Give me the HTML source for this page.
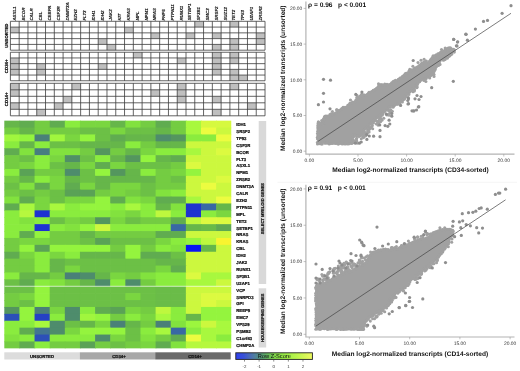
<!DOCTYPE html><html><head><meta charset="utf-8"><style>html,body{margin:0;padding:0;background:#fff;overflow:hidden}svg{display:block;will-change:transform}text{font-family:"Liberation Sans",sans-serif;text-rendering:geometricPrecision}.k{stroke:#111;stroke-width:0.22px}</style></head><body>
<svg width="520" height="371" viewBox="0 0 520 371">
<rect width="520" height="371" fill="#fff"/>
<rect x="194.78" y="21.30" width="8.78" height="5.78" fill="#bfbfbf"/>
<rect x="229.90" y="21.30" width="8.78" height="5.78" fill="#bfbfbf"/>
<rect x="10.40" y="27.08" width="8.78" height="5.78" fill="#bfbfbf"/>
<rect x="124.54" y="27.08" width="8.78" height="5.78" fill="#bfbfbf"/>
<rect x="150.88" y="32.86" width="8.78" height="5.78" fill="#bfbfbf"/>
<rect x="186.00" y="32.86" width="8.78" height="5.78" fill="#bfbfbf"/>
<rect x="212.34" y="32.86" width="8.78" height="5.78" fill="#bfbfbf"/>
<rect x="256.24" y="32.86" width="8.78" height="5.78" fill="#bfbfbf"/>
<rect x="98.20" y="38.64" width="8.78" height="5.78" fill="#bfbfbf"/>
<rect x="229.90" y="38.64" width="8.78" height="5.78" fill="#bfbfbf"/>
<rect x="256.24" y="38.64" width="8.78" height="5.78" fill="#bfbfbf"/>
<rect x="106.98" y="44.42" width="8.78" height="5.78" fill="#bfbfbf"/>
<rect x="212.34" y="44.42" width="8.78" height="5.78" fill="#bfbfbf"/>
<rect x="229.90" y="44.42" width="8.78" height="5.78" fill="#bfbfbf"/>
<line x1="10.40" y1="21.30" x2="265.02" y2="21.30" stroke="#3c3c3c" stroke-width="0.8"/>
<line x1="10.40" y1="27.08" x2="265.02" y2="27.08" stroke="#3c3c3c" stroke-width="0.8"/>
<line x1="10.40" y1="32.86" x2="265.02" y2="32.86" stroke="#3c3c3c" stroke-width="0.8"/>
<line x1="10.40" y1="38.64" x2="265.02" y2="38.64" stroke="#3c3c3c" stroke-width="0.8"/>
<line x1="10.40" y1="44.42" x2="265.02" y2="44.42" stroke="#3c3c3c" stroke-width="0.8"/>
<line x1="10.40" y1="50.20" x2="265.02" y2="50.20" stroke="#3c3c3c" stroke-width="0.8"/>
<line x1="10.40" y1="21.30" x2="10.40" y2="50.20" stroke="#3c3c3c" stroke-width="0.8"/>
<line x1="19.18" y1="21.30" x2="19.18" y2="50.20" stroke="#3c3c3c" stroke-width="0.8"/>
<line x1="27.96" y1="21.30" x2="27.96" y2="50.20" stroke="#3c3c3c" stroke-width="0.8"/>
<line x1="36.74" y1="21.30" x2="36.74" y2="50.20" stroke="#3c3c3c" stroke-width="0.8"/>
<line x1="45.52" y1="21.30" x2="45.52" y2="50.20" stroke="#3c3c3c" stroke-width="0.8"/>
<line x1="54.30" y1="21.30" x2="54.30" y2="50.20" stroke="#3c3c3c" stroke-width="0.8"/>
<line x1="63.08" y1="21.30" x2="63.08" y2="50.20" stroke="#3c3c3c" stroke-width="0.8"/>
<line x1="71.86" y1="21.30" x2="71.86" y2="50.20" stroke="#3c3c3c" stroke-width="0.8"/>
<line x1="80.64" y1="21.30" x2="80.64" y2="50.20" stroke="#3c3c3c" stroke-width="0.8"/>
<line x1="89.42" y1="21.30" x2="89.42" y2="50.20" stroke="#3c3c3c" stroke-width="0.8"/>
<line x1="98.20" y1="21.30" x2="98.20" y2="50.20" stroke="#3c3c3c" stroke-width="0.8"/>
<line x1="106.98" y1="21.30" x2="106.98" y2="50.20" stroke="#3c3c3c" stroke-width="0.8"/>
<line x1="115.76" y1="21.30" x2="115.76" y2="50.20" stroke="#3c3c3c" stroke-width="0.8"/>
<line x1="124.54" y1="21.30" x2="124.54" y2="50.20" stroke="#3c3c3c" stroke-width="0.8"/>
<line x1="133.32" y1="21.30" x2="133.32" y2="50.20" stroke="#3c3c3c" stroke-width="0.8"/>
<line x1="142.10" y1="21.30" x2="142.10" y2="50.20" stroke="#3c3c3c" stroke-width="0.8"/>
<line x1="150.88" y1="21.30" x2="150.88" y2="50.20" stroke="#3c3c3c" stroke-width="0.8"/>
<line x1="159.66" y1="21.30" x2="159.66" y2="50.20" stroke="#3c3c3c" stroke-width="0.8"/>
<line x1="168.44" y1="21.30" x2="168.44" y2="50.20" stroke="#3c3c3c" stroke-width="0.8"/>
<line x1="177.22" y1="21.30" x2="177.22" y2="50.20" stroke="#3c3c3c" stroke-width="0.8"/>
<line x1="186.00" y1="21.30" x2="186.00" y2="50.20" stroke="#3c3c3c" stroke-width="0.8"/>
<line x1="194.78" y1="21.30" x2="194.78" y2="50.20" stroke="#3c3c3c" stroke-width="0.8"/>
<line x1="203.56" y1="21.30" x2="203.56" y2="50.20" stroke="#3c3c3c" stroke-width="0.8"/>
<line x1="212.34" y1="21.30" x2="212.34" y2="50.20" stroke="#3c3c3c" stroke-width="0.8"/>
<line x1="221.12" y1="21.30" x2="221.12" y2="50.20" stroke="#3c3c3c" stroke-width="0.8"/>
<line x1="229.90" y1="21.30" x2="229.90" y2="50.20" stroke="#3c3c3c" stroke-width="0.8"/>
<line x1="238.68" y1="21.30" x2="238.68" y2="50.20" stroke="#3c3c3c" stroke-width="0.8"/>
<line x1="247.46" y1="21.30" x2="247.46" y2="50.20" stroke="#3c3c3c" stroke-width="0.8"/>
<line x1="256.24" y1="21.30" x2="256.24" y2="50.20" stroke="#3c3c3c" stroke-width="0.8"/>
<line x1="265.02" y1="21.30" x2="265.02" y2="50.20" stroke="#3c3c3c" stroke-width="0.8"/>
<rect x="133.32" y="52.25" width="8.78" height="5.70" fill="#bfbfbf"/>
<rect x="212.34" y="52.25" width="8.78" height="5.70" fill="#bfbfbf"/>
<rect x="229.90" y="52.25" width="8.78" height="5.70" fill="#bfbfbf"/>
<rect x="10.40" y="57.95" width="8.78" height="5.70" fill="#bfbfbf"/>
<rect x="177.22" y="57.95" width="8.78" height="5.70" fill="#bfbfbf"/>
<rect x="212.34" y="57.95" width="8.78" height="5.70" fill="#bfbfbf"/>
<rect x="229.90" y="57.95" width="8.78" height="5.70" fill="#bfbfbf"/>
<rect x="10.40" y="63.65" width="8.78" height="5.70" fill="#bfbfbf"/>
<rect x="36.74" y="63.65" width="8.78" height="5.70" fill="#bfbfbf"/>
<rect x="98.20" y="63.65" width="8.78" height="5.70" fill="#bfbfbf"/>
<rect x="212.34" y="63.65" width="8.78" height="5.70" fill="#bfbfbf"/>
<rect x="10.40" y="69.35" width="8.78" height="5.70" fill="#bfbfbf"/>
<rect x="36.74" y="69.35" width="8.78" height="5.70" fill="#bfbfbf"/>
<rect x="212.34" y="69.35" width="8.78" height="5.70" fill="#bfbfbf"/>
<rect x="229.90" y="69.35" width="8.78" height="5.70" fill="#bfbfbf"/>
<rect x="229.90" y="75.05" width="8.78" height="5.70" fill="#bfbfbf"/>
<rect x="238.68" y="75.05" width="8.78" height="5.70" fill="#bfbfbf"/>
<line x1="10.40" y1="52.25" x2="265.02" y2="52.25" stroke="#3c3c3c" stroke-width="0.8"/>
<line x1="10.40" y1="57.95" x2="265.02" y2="57.95" stroke="#3c3c3c" stroke-width="0.8"/>
<line x1="10.40" y1="63.65" x2="265.02" y2="63.65" stroke="#3c3c3c" stroke-width="0.8"/>
<line x1="10.40" y1="69.35" x2="265.02" y2="69.35" stroke="#3c3c3c" stroke-width="0.8"/>
<line x1="10.40" y1="75.05" x2="265.02" y2="75.05" stroke="#3c3c3c" stroke-width="0.8"/>
<line x1="10.40" y1="80.75" x2="265.02" y2="80.75" stroke="#3c3c3c" stroke-width="0.8"/>
<line x1="10.40" y1="52.25" x2="10.40" y2="80.75" stroke="#3c3c3c" stroke-width="0.8"/>
<line x1="19.18" y1="52.25" x2="19.18" y2="80.75" stroke="#3c3c3c" stroke-width="0.8"/>
<line x1="27.96" y1="52.25" x2="27.96" y2="80.75" stroke="#3c3c3c" stroke-width="0.8"/>
<line x1="36.74" y1="52.25" x2="36.74" y2="80.75" stroke="#3c3c3c" stroke-width="0.8"/>
<line x1="45.52" y1="52.25" x2="45.52" y2="80.75" stroke="#3c3c3c" stroke-width="0.8"/>
<line x1="54.30" y1="52.25" x2="54.30" y2="80.75" stroke="#3c3c3c" stroke-width="0.8"/>
<line x1="63.08" y1="52.25" x2="63.08" y2="80.75" stroke="#3c3c3c" stroke-width="0.8"/>
<line x1="71.86" y1="52.25" x2="71.86" y2="80.75" stroke="#3c3c3c" stroke-width="0.8"/>
<line x1="80.64" y1="52.25" x2="80.64" y2="80.75" stroke="#3c3c3c" stroke-width="0.8"/>
<line x1="89.42" y1="52.25" x2="89.42" y2="80.75" stroke="#3c3c3c" stroke-width="0.8"/>
<line x1="98.20" y1="52.25" x2="98.20" y2="80.75" stroke="#3c3c3c" stroke-width="0.8"/>
<line x1="106.98" y1="52.25" x2="106.98" y2="80.75" stroke="#3c3c3c" stroke-width="0.8"/>
<line x1="115.76" y1="52.25" x2="115.76" y2="80.75" stroke="#3c3c3c" stroke-width="0.8"/>
<line x1="124.54" y1="52.25" x2="124.54" y2="80.75" stroke="#3c3c3c" stroke-width="0.8"/>
<line x1="133.32" y1="52.25" x2="133.32" y2="80.75" stroke="#3c3c3c" stroke-width="0.8"/>
<line x1="142.10" y1="52.25" x2="142.10" y2="80.75" stroke="#3c3c3c" stroke-width="0.8"/>
<line x1="150.88" y1="52.25" x2="150.88" y2="80.75" stroke="#3c3c3c" stroke-width="0.8"/>
<line x1="159.66" y1="52.25" x2="159.66" y2="80.75" stroke="#3c3c3c" stroke-width="0.8"/>
<line x1="168.44" y1="52.25" x2="168.44" y2="80.75" stroke="#3c3c3c" stroke-width="0.8"/>
<line x1="177.22" y1="52.25" x2="177.22" y2="80.75" stroke="#3c3c3c" stroke-width="0.8"/>
<line x1="186.00" y1="52.25" x2="186.00" y2="80.75" stroke="#3c3c3c" stroke-width="0.8"/>
<line x1="194.78" y1="52.25" x2="194.78" y2="80.75" stroke="#3c3c3c" stroke-width="0.8"/>
<line x1="203.56" y1="52.25" x2="203.56" y2="80.75" stroke="#3c3c3c" stroke-width="0.8"/>
<line x1="212.34" y1="52.25" x2="212.34" y2="80.75" stroke="#3c3c3c" stroke-width="0.8"/>
<line x1="221.12" y1="52.25" x2="221.12" y2="80.75" stroke="#3c3c3c" stroke-width="0.8"/>
<line x1="229.90" y1="52.25" x2="229.90" y2="80.75" stroke="#3c3c3c" stroke-width="0.8"/>
<line x1="238.68" y1="52.25" x2="238.68" y2="80.75" stroke="#3c3c3c" stroke-width="0.8"/>
<line x1="247.46" y1="52.25" x2="247.46" y2="80.75" stroke="#3c3c3c" stroke-width="0.8"/>
<line x1="256.24" y1="52.25" x2="256.24" y2="80.75" stroke="#3c3c3c" stroke-width="0.8"/>
<line x1="265.02" y1="52.25" x2="265.02" y2="80.75" stroke="#3c3c3c" stroke-width="0.8"/>
<rect x="10.40" y="83.30" width="8.78" height="6.50" fill="#bfbfbf"/>
<rect x="71.86" y="83.30" width="8.78" height="6.50" fill="#bfbfbf"/>
<rect x="177.22" y="83.30" width="8.78" height="6.50" fill="#bfbfbf"/>
<rect x="229.90" y="83.30" width="8.78" height="6.50" fill="#bfbfbf"/>
<rect x="10.40" y="89.80" width="8.78" height="6.50" fill="#bfbfbf"/>
<rect x="150.88" y="89.80" width="8.78" height="6.50" fill="#bfbfbf"/>
<rect x="177.22" y="89.80" width="8.78" height="6.50" fill="#bfbfbf"/>
<rect x="63.08" y="96.30" width="8.78" height="6.50" fill="#bfbfbf"/>
<rect x="177.22" y="96.30" width="8.78" height="6.50" fill="#bfbfbf"/>
<rect x="212.34" y="96.30" width="8.78" height="6.50" fill="#bfbfbf"/>
<rect x="10.40" y="102.80" width="8.78" height="6.50" fill="#bfbfbf"/>
<rect x="54.30" y="102.80" width="8.78" height="6.50" fill="#bfbfbf"/>
<rect x="247.46" y="102.80" width="8.78" height="6.50" fill="#bfbfbf"/>
<rect x="36.74" y="109.30" width="8.78" height="6.50" fill="#bfbfbf"/>
<rect x="212.34" y="109.30" width="8.78" height="6.50" fill="#bfbfbf"/>
<line x1="10.40" y1="83.30" x2="265.02" y2="83.30" stroke="#3c3c3c" stroke-width="0.8"/>
<line x1="10.40" y1="89.80" x2="265.02" y2="89.80" stroke="#3c3c3c" stroke-width="0.8"/>
<line x1="10.40" y1="96.30" x2="265.02" y2="96.30" stroke="#3c3c3c" stroke-width="0.8"/>
<line x1="10.40" y1="102.80" x2="265.02" y2="102.80" stroke="#3c3c3c" stroke-width="0.8"/>
<line x1="10.40" y1="109.30" x2="265.02" y2="109.30" stroke="#3c3c3c" stroke-width="0.8"/>
<line x1="10.40" y1="115.80" x2="265.02" y2="115.80" stroke="#3c3c3c" stroke-width="0.8"/>
<line x1="10.40" y1="83.30" x2="10.40" y2="115.80" stroke="#3c3c3c" stroke-width="0.8"/>
<line x1="19.18" y1="83.30" x2="19.18" y2="115.80" stroke="#3c3c3c" stroke-width="0.8"/>
<line x1="27.96" y1="83.30" x2="27.96" y2="115.80" stroke="#3c3c3c" stroke-width="0.8"/>
<line x1="36.74" y1="83.30" x2="36.74" y2="115.80" stroke="#3c3c3c" stroke-width="0.8"/>
<line x1="45.52" y1="83.30" x2="45.52" y2="115.80" stroke="#3c3c3c" stroke-width="0.8"/>
<line x1="54.30" y1="83.30" x2="54.30" y2="115.80" stroke="#3c3c3c" stroke-width="0.8"/>
<line x1="63.08" y1="83.30" x2="63.08" y2="115.80" stroke="#3c3c3c" stroke-width="0.8"/>
<line x1="71.86" y1="83.30" x2="71.86" y2="115.80" stroke="#3c3c3c" stroke-width="0.8"/>
<line x1="80.64" y1="83.30" x2="80.64" y2="115.80" stroke="#3c3c3c" stroke-width="0.8"/>
<line x1="89.42" y1="83.30" x2="89.42" y2="115.80" stroke="#3c3c3c" stroke-width="0.8"/>
<line x1="98.20" y1="83.30" x2="98.20" y2="115.80" stroke="#3c3c3c" stroke-width="0.8"/>
<line x1="106.98" y1="83.30" x2="106.98" y2="115.80" stroke="#3c3c3c" stroke-width="0.8"/>
<line x1="115.76" y1="83.30" x2="115.76" y2="115.80" stroke="#3c3c3c" stroke-width="0.8"/>
<line x1="124.54" y1="83.30" x2="124.54" y2="115.80" stroke="#3c3c3c" stroke-width="0.8"/>
<line x1="133.32" y1="83.30" x2="133.32" y2="115.80" stroke="#3c3c3c" stroke-width="0.8"/>
<line x1="142.10" y1="83.30" x2="142.10" y2="115.80" stroke="#3c3c3c" stroke-width="0.8"/>
<line x1="150.88" y1="83.30" x2="150.88" y2="115.80" stroke="#3c3c3c" stroke-width="0.8"/>
<line x1="159.66" y1="83.30" x2="159.66" y2="115.80" stroke="#3c3c3c" stroke-width="0.8"/>
<line x1="168.44" y1="83.30" x2="168.44" y2="115.80" stroke="#3c3c3c" stroke-width="0.8"/>
<line x1="177.22" y1="83.30" x2="177.22" y2="115.80" stroke="#3c3c3c" stroke-width="0.8"/>
<line x1="186.00" y1="83.30" x2="186.00" y2="115.80" stroke="#3c3c3c" stroke-width="0.8"/>
<line x1="194.78" y1="83.30" x2="194.78" y2="115.80" stroke="#3c3c3c" stroke-width="0.8"/>
<line x1="203.56" y1="83.30" x2="203.56" y2="115.80" stroke="#3c3c3c" stroke-width="0.8"/>
<line x1="212.34" y1="83.30" x2="212.34" y2="115.80" stroke="#3c3c3c" stroke-width="0.8"/>
<line x1="221.12" y1="83.30" x2="221.12" y2="115.80" stroke="#3c3c3c" stroke-width="0.8"/>
<line x1="229.90" y1="83.30" x2="229.90" y2="115.80" stroke="#3c3c3c" stroke-width="0.8"/>
<line x1="238.68" y1="83.30" x2="238.68" y2="115.80" stroke="#3c3c3c" stroke-width="0.8"/>
<line x1="247.46" y1="83.30" x2="247.46" y2="115.80" stroke="#3c3c3c" stroke-width="0.8"/>
<line x1="256.24" y1="83.30" x2="256.24" y2="115.80" stroke="#3c3c3c" stroke-width="0.8"/>
<line x1="265.02" y1="83.30" x2="265.02" y2="115.80" stroke="#3c3c3c" stroke-width="0.8"/>
<text transform="translate(15.89,20.6) rotate(-90)" font-size="4.4" font-weight="bold" font-style="italic" fill="#111" stroke="#111" stroke-width="0.08">ASXL1</text>
<text transform="translate(24.67,20.6) rotate(-90)" font-size="4.4" font-weight="bold" font-style="italic" fill="#111" stroke="#111" stroke-width="0.08">BCOR</text>
<text transform="translate(33.45,20.6) rotate(-90)" font-size="4.4" font-weight="bold" font-style="italic" fill="#111" stroke="#111" stroke-width="0.08">CALR</text>
<text transform="translate(42.23,20.6) rotate(-90)" font-size="4.4" font-weight="bold" font-style="italic" fill="#111" stroke="#111" stroke-width="0.08">CBL</text>
<text transform="translate(51.01,20.6) rotate(-90)" font-size="4.4" font-weight="bold" font-style="italic" fill="#111" stroke="#111" stroke-width="0.08">CEBPA</text>
<text transform="translate(59.79,20.6) rotate(-90)" font-size="4.4" font-weight="bold" font-style="italic" fill="#111" stroke="#111" stroke-width="0.08">CSF3R</text>
<text transform="translate(68.57,20.6) rotate(-90)" font-size="4.4" font-weight="bold" font-style="italic" fill="#111" stroke="#111" stroke-width="0.08">DNMT3A</text>
<text transform="translate(77.35,20.6) rotate(-90)" font-size="4.4" font-weight="bold" font-style="italic" fill="#111" stroke="#111" stroke-width="0.08">EZH2</text>
<text transform="translate(86.13,20.6) rotate(-90)" font-size="4.4" font-weight="bold" font-style="italic" fill="#111" stroke="#111" stroke-width="0.08">FLT3</text>
<text transform="translate(94.91,20.6) rotate(-90)" font-size="4.4" font-weight="bold" font-style="italic" fill="#111" stroke="#111" stroke-width="0.08">IDH1</text>
<text transform="translate(103.69,20.6) rotate(-90)" font-size="4.4" font-weight="bold" font-style="italic" fill="#111" stroke="#111" stroke-width="0.08">IDH2</text>
<text transform="translate(112.47,20.6) rotate(-90)" font-size="4.4" font-weight="bold" font-style="italic" fill="#111" stroke="#111" stroke-width="0.08">JAK2</text>
<text transform="translate(121.25,20.6) rotate(-90)" font-size="4.4" font-weight="bold" font-style="italic" fill="#111" stroke="#111" stroke-width="0.08">KIT</text>
<text transform="translate(130.03,20.6) rotate(-90)" font-size="4.4" font-weight="bold" font-style="italic" fill="#111" stroke="#111" stroke-width="0.08">KRAS</text>
<text transform="translate(138.81,20.6) rotate(-90)" font-size="4.4" font-weight="bold" font-style="italic" fill="#111" stroke="#111" stroke-width="0.08">MPL</text>
<text transform="translate(147.59,20.6) rotate(-90)" font-size="4.4" font-weight="bold" font-style="italic" fill="#111" stroke="#111" stroke-width="0.08">NPM1</text>
<text transform="translate(156.37,20.6) rotate(-90)" font-size="4.4" font-weight="bold" font-style="italic" fill="#111" stroke="#111" stroke-width="0.08">NRAS</text>
<text transform="translate(165.15,20.6) rotate(-90)" font-size="4.4" font-weight="bold" font-style="italic" fill="#111" stroke="#111" stroke-width="0.08">PHF6</text>
<text transform="translate(173.93,20.6) rotate(-90)" font-size="4.4" font-weight="bold" font-style="italic" fill="#111" stroke="#111" stroke-width="0.08">PTPN11</text>
<text transform="translate(182.71,20.6) rotate(-90)" font-size="4.4" font-weight="bold" font-style="italic" fill="#111" stroke="#111" stroke-width="0.08">RUNX1</text>
<text transform="translate(191.49,20.6) rotate(-90)" font-size="4.4" font-weight="bold" font-style="italic" fill="#111" stroke="#111" stroke-width="0.08">SETBP1</text>
<text transform="translate(200.27,20.6) rotate(-90)" font-size="4.4" font-weight="bold" font-style="italic" fill="#111" stroke="#111" stroke-width="0.08">SF3B1</text>
<text transform="translate(209.05,20.6) rotate(-90)" font-size="4.4" font-weight="bold" font-style="italic" fill="#111" stroke="#111" stroke-width="0.08">SMC3</text>
<text transform="translate(217.83,20.6) rotate(-90)" font-size="4.4" font-weight="bold" font-style="italic" fill="#111" stroke="#111" stroke-width="0.08">SRSF2</text>
<text transform="translate(226.61,20.6) rotate(-90)" font-size="4.4" font-weight="bold" font-style="italic" fill="#111" stroke="#111" stroke-width="0.08">SUZ12</text>
<text transform="translate(235.39,20.6) rotate(-90)" font-size="4.4" font-weight="bold" font-style="italic" fill="#111" stroke="#111" stroke-width="0.08">TET2</text>
<text transform="translate(244.17,20.6) rotate(-90)" font-size="4.4" font-weight="bold" font-style="italic" fill="#111" stroke="#111" stroke-width="0.08">TP53</text>
<text transform="translate(252.95,20.6) rotate(-90)" font-size="4.4" font-weight="bold" font-style="italic" fill="#111" stroke="#111" stroke-width="0.08">U2AF1</text>
<text transform="translate(261.73,20.6) rotate(-90)" font-size="4.4" font-weight="bold" font-style="italic" fill="#111" stroke="#111" stroke-width="0.08">ZRSR2</text>
<text transform="translate(7.7,35.6) rotate(-90)" text-anchor="middle" font-size="4.3" font-weight="bold" fill="#111" class="k">UNSORTED</text>
<text transform="translate(7.7,66.3) rotate(-90)" text-anchor="middle" font-size="4.4" font-weight="bold" fill="#111" class="k">CD34+</text>
<text transform="translate(7.9,99.3) rotate(-90)" text-anchor="middle" font-size="4.4" font-weight="bold" fill="#111" class="k">CD14+</text>
<rect x="4.30" y="120.65" width="15.83" height="7.60" fill="#66b64a"/>
<rect x="19.43" y="120.65" width="15.83" height="7.60" fill="#60ac50"/>
<rect x="34.56" y="120.65" width="15.83" height="7.60" fill="#74cc42"/>
<rect x="49.69" y="120.65" width="15.83" height="7.60" fill="#60ac50"/>
<rect x="64.82" y="120.65" width="15.83" height="7.60" fill="#8aec3e"/>
<rect x="79.95" y="120.65" width="15.83" height="7.60" fill="#7ad640"/>
<rect x="95.08" y="120.65" width="15.83" height="7.60" fill="#7ad640"/>
<rect x="110.21" y="120.65" width="15.83" height="7.60" fill="#66b64a"/>
<rect x="125.34" y="120.65" width="15.83" height="7.60" fill="#82e23e"/>
<rect x="140.47" y="120.65" width="15.83" height="7.60" fill="#74cc42"/>
<rect x="155.60" y="120.65" width="15.83" height="7.60" fill="#60ac50"/>
<rect x="170.73" y="120.65" width="15.83" height="7.60" fill="#74cc42"/>
<rect x="185.86" y="120.65" width="15.83" height="7.60" fill="#a8f83e"/>
<rect x="200.99" y="120.65" width="15.83" height="7.60" fill="#d6f93f"/>
<rect x="216.12" y="120.65" width="15.13" height="7.60" fill="#d6f93f"/>
<rect x="4.30" y="127.55" width="15.83" height="7.60" fill="#74cc42"/>
<rect x="19.43" y="127.55" width="15.83" height="7.60" fill="#66b64a"/>
<rect x="34.56" y="127.55" width="15.83" height="7.60" fill="#74cc42"/>
<rect x="49.69" y="127.55" width="15.83" height="7.60" fill="#74cc42"/>
<rect x="64.82" y="127.55" width="15.83" height="7.60" fill="#74cc42"/>
<rect x="79.95" y="127.55" width="15.83" height="7.60" fill="#6cc046"/>
<rect x="95.08" y="127.55" width="15.83" height="7.60" fill="#6cc046"/>
<rect x="110.21" y="127.55" width="15.83" height="7.60" fill="#7ad640"/>
<rect x="125.34" y="127.55" width="15.83" height="7.60" fill="#6cc046"/>
<rect x="140.47" y="127.55" width="15.83" height="7.60" fill="#6cc046"/>
<rect x="155.60" y="127.55" width="15.83" height="7.60" fill="#66b64a"/>
<rect x="170.73" y="127.55" width="15.83" height="7.60" fill="#74cc42"/>
<rect x="185.86" y="127.55" width="15.83" height="7.60" fill="#a8f83e"/>
<rect x="200.99" y="127.55" width="15.83" height="7.60" fill="#ecfc40"/>
<rect x="216.12" y="127.55" width="15.13" height="7.60" fill="#ccf83e"/>
<rect x="4.30" y="134.45" width="15.83" height="7.60" fill="#a0f63e"/>
<rect x="19.43" y="134.45" width="15.83" height="7.60" fill="#94f43e"/>
<rect x="34.56" y="134.45" width="15.83" height="7.60" fill="#4a8078"/>
<rect x="49.69" y="134.45" width="15.83" height="7.60" fill="#a0f63e"/>
<rect x="64.82" y="134.45" width="15.83" height="7.60" fill="#7ad640"/>
<rect x="79.95" y="134.45" width="15.83" height="7.60" fill="#94f43e"/>
<rect x="95.08" y="134.45" width="15.83" height="7.60" fill="#6cc046"/>
<rect x="110.21" y="134.45" width="15.83" height="7.60" fill="#60ac50"/>
<rect x="125.34" y="134.45" width="15.83" height="7.60" fill="#66b64a"/>
<rect x="140.47" y="134.45" width="15.83" height="7.60" fill="#66b64a"/>
<rect x="155.60" y="134.45" width="15.83" height="7.60" fill="#4e8c6c"/>
<rect x="170.73" y="134.45" width="15.83" height="7.60" fill="#54965e"/>
<rect x="185.86" y="134.45" width="15.83" height="7.60" fill="#8aec3e"/>
<rect x="200.99" y="134.45" width="15.83" height="7.60" fill="#8aec3e"/>
<rect x="216.12" y="134.45" width="15.13" height="7.60" fill="#ecfc40"/>
<rect x="4.30" y="141.35" width="15.83" height="7.60" fill="#8aec3e"/>
<rect x="19.43" y="141.35" width="15.83" height="7.60" fill="#66b64a"/>
<rect x="34.56" y="141.35" width="15.83" height="7.60" fill="#8aec3e"/>
<rect x="49.69" y="141.35" width="15.83" height="7.60" fill="#6cc046"/>
<rect x="64.82" y="141.35" width="15.83" height="7.60" fill="#6cc046"/>
<rect x="79.95" y="141.35" width="15.83" height="7.60" fill="#66b64a"/>
<rect x="95.08" y="141.35" width="15.83" height="7.60" fill="#66b64a"/>
<rect x="110.21" y="141.35" width="15.83" height="7.60" fill="#66b64a"/>
<rect x="125.34" y="141.35" width="15.83" height="7.60" fill="#8aec3e"/>
<rect x="140.47" y="141.35" width="15.83" height="7.60" fill="#74cc42"/>
<rect x="155.60" y="141.35" width="15.83" height="7.60" fill="#66b64a"/>
<rect x="170.73" y="141.35" width="15.83" height="7.60" fill="#66b64a"/>
<rect x="185.86" y="141.35" width="15.83" height="7.60" fill="#ccf83e"/>
<rect x="200.99" y="141.35" width="15.83" height="7.60" fill="#ccf83e"/>
<rect x="216.12" y="141.35" width="15.13" height="7.60" fill="#ccf83e"/>
<rect x="4.30" y="148.25" width="15.83" height="7.60" fill="#60ac50"/>
<rect x="19.43" y="148.25" width="15.83" height="7.60" fill="#82e23e"/>
<rect x="34.56" y="148.25" width="15.83" height="7.60" fill="#477d80"/>
<rect x="49.69" y="148.25" width="15.83" height="7.60" fill="#82e23e"/>
<rect x="64.82" y="148.25" width="15.83" height="7.60" fill="#82e23e"/>
<rect x="79.95" y="148.25" width="15.83" height="7.60" fill="#74cc42"/>
<rect x="95.08" y="148.25" width="15.83" height="7.60" fill="#54965e"/>
<rect x="110.21" y="148.25" width="15.83" height="7.60" fill="#74cc42"/>
<rect x="125.34" y="148.25" width="15.83" height="7.60" fill="#66b64a"/>
<rect x="140.47" y="148.25" width="15.83" height="7.60" fill="#7ad640"/>
<rect x="155.60" y="148.25" width="15.83" height="7.60" fill="#8aec3e"/>
<rect x="170.73" y="148.25" width="15.83" height="7.60" fill="#8aec3e"/>
<rect x="185.86" y="148.25" width="15.83" height="7.60" fill="#a8f83e"/>
<rect x="200.99" y="148.25" width="15.83" height="7.60" fill="#ccf83e"/>
<rect x="216.12" y="148.25" width="15.13" height="7.60" fill="#dcfa40"/>
<rect x="4.30" y="155.15" width="15.83" height="7.60" fill="#74cc42"/>
<rect x="19.43" y="155.15" width="15.83" height="7.60" fill="#6cc046"/>
<rect x="34.56" y="155.15" width="15.83" height="7.60" fill="#8aec3e"/>
<rect x="49.69" y="155.15" width="15.83" height="7.60" fill="#7ad640"/>
<rect x="64.82" y="155.15" width="15.83" height="7.60" fill="#509066"/>
<rect x="79.95" y="155.15" width="15.83" height="7.60" fill="#6cc046"/>
<rect x="95.08" y="155.15" width="15.83" height="7.60" fill="#8aec3e"/>
<rect x="110.21" y="155.15" width="15.83" height="7.60" fill="#66b64a"/>
<rect x="125.34" y="155.15" width="15.83" height="7.60" fill="#54965e"/>
<rect x="140.47" y="155.15" width="15.83" height="7.60" fill="#94f43e"/>
<rect x="155.60" y="155.15" width="15.83" height="7.60" fill="#66b64a"/>
<rect x="170.73" y="155.15" width="15.83" height="7.60" fill="#60ac50"/>
<rect x="185.86" y="155.15" width="15.83" height="7.60" fill="#ccf83e"/>
<rect x="200.99" y="155.15" width="15.83" height="7.60" fill="#ccf83e"/>
<rect x="216.12" y="155.15" width="15.13" height="7.60" fill="#ccf83e"/>
<rect x="4.30" y="162.05" width="15.83" height="7.60" fill="#74cc42"/>
<rect x="19.43" y="162.05" width="15.83" height="7.60" fill="#7ad640"/>
<rect x="34.56" y="162.05" width="15.83" height="7.60" fill="#8aec3e"/>
<rect x="49.69" y="162.05" width="15.83" height="7.60" fill="#6cc046"/>
<rect x="64.82" y="162.05" width="15.83" height="7.60" fill="#66b64a"/>
<rect x="79.95" y="162.05" width="15.83" height="7.60" fill="#7ad640"/>
<rect x="95.08" y="162.05" width="15.83" height="7.60" fill="#60ac50"/>
<rect x="110.21" y="162.05" width="15.83" height="7.60" fill="#7ad640"/>
<rect x="125.34" y="162.05" width="15.83" height="7.60" fill="#6cc046"/>
<rect x="140.47" y="162.05" width="15.83" height="7.60" fill="#6cc046"/>
<rect x="155.60" y="162.05" width="15.83" height="7.60" fill="#6cc046"/>
<rect x="170.73" y="162.05" width="15.83" height="7.60" fill="#74cc42"/>
<rect x="185.86" y="162.05" width="15.83" height="7.60" fill="#dcfa40"/>
<rect x="200.99" y="162.05" width="15.83" height="7.60" fill="#ccf83e"/>
<rect x="216.12" y="162.05" width="15.13" height="7.60" fill="#ccf83e"/>
<rect x="4.30" y="168.95" width="15.83" height="7.60" fill="#8aec3e"/>
<rect x="19.43" y="168.95" width="15.83" height="7.60" fill="#5aa256"/>
<rect x="34.56" y="168.95" width="15.83" height="7.60" fill="#74cc42"/>
<rect x="49.69" y="168.95" width="15.83" height="7.60" fill="#74cc42"/>
<rect x="64.82" y="168.95" width="15.83" height="7.60" fill="#4e8c6c"/>
<rect x="79.95" y="168.95" width="15.83" height="7.60" fill="#6cc046"/>
<rect x="95.08" y="168.95" width="15.83" height="7.60" fill="#94f43e"/>
<rect x="110.21" y="168.95" width="15.83" height="7.60" fill="#54965e"/>
<rect x="125.34" y="168.95" width="15.83" height="7.60" fill="#66b64a"/>
<rect x="140.47" y="168.95" width="15.83" height="7.60" fill="#8aec3e"/>
<rect x="155.60" y="168.95" width="15.83" height="7.60" fill="#74cc42"/>
<rect x="170.73" y="168.95" width="15.83" height="7.60" fill="#7ad640"/>
<rect x="185.86" y="168.95" width="15.83" height="7.60" fill="#94f43e"/>
<rect x="200.99" y="168.95" width="15.83" height="7.60" fill="#ccf83e"/>
<rect x="216.12" y="168.95" width="15.13" height="7.60" fill="#ccf83e"/>
<rect x="4.30" y="175.85" width="15.83" height="7.60" fill="#74cc42"/>
<rect x="19.43" y="175.85" width="15.83" height="7.60" fill="#66b64a"/>
<rect x="34.56" y="175.85" width="15.83" height="7.60" fill="#8aec3e"/>
<rect x="49.69" y="175.85" width="15.83" height="7.60" fill="#7ad640"/>
<rect x="64.82" y="175.85" width="15.83" height="7.60" fill="#66b64a"/>
<rect x="79.95" y="175.85" width="15.83" height="7.60" fill="#6cc046"/>
<rect x="95.08" y="175.85" width="15.83" height="7.60" fill="#66b64a"/>
<rect x="110.21" y="175.85" width="15.83" height="7.60" fill="#66b64a"/>
<rect x="125.34" y="175.85" width="15.83" height="7.60" fill="#66b64a"/>
<rect x="140.47" y="175.85" width="15.83" height="7.60" fill="#66b64a"/>
<rect x="155.60" y="175.85" width="15.83" height="7.60" fill="#74cc42"/>
<rect x="170.73" y="175.85" width="15.83" height="7.60" fill="#6cc046"/>
<rect x="185.86" y="175.85" width="15.83" height="7.60" fill="#ccf83e"/>
<rect x="200.99" y="175.85" width="15.83" height="7.60" fill="#ccf83e"/>
<rect x="216.12" y="175.85" width="15.13" height="7.60" fill="#dcfa40"/>
<rect x="4.30" y="182.75" width="15.83" height="7.60" fill="#6cc046"/>
<rect x="19.43" y="182.75" width="15.83" height="7.60" fill="#82e23e"/>
<rect x="34.56" y="182.75" width="15.83" height="7.60" fill="#60ac50"/>
<rect x="49.69" y="182.75" width="15.83" height="7.60" fill="#7ad640"/>
<rect x="64.82" y="182.75" width="15.83" height="7.60" fill="#60ac50"/>
<rect x="79.95" y="182.75" width="15.83" height="7.60" fill="#7ad640"/>
<rect x="95.08" y="182.75" width="15.83" height="7.60" fill="#66b64a"/>
<rect x="110.21" y="182.75" width="15.83" height="7.60" fill="#7ad640"/>
<rect x="125.34" y="182.75" width="15.83" height="7.60" fill="#7ad640"/>
<rect x="140.47" y="182.75" width="15.83" height="7.60" fill="#6cc046"/>
<rect x="155.60" y="182.75" width="15.83" height="7.60" fill="#74cc42"/>
<rect x="170.73" y="182.75" width="15.83" height="7.60" fill="#74cc42"/>
<rect x="185.86" y="182.75" width="15.83" height="7.60" fill="#ccf83e"/>
<rect x="200.99" y="182.75" width="15.83" height="7.60" fill="#ecfc40"/>
<rect x="216.12" y="182.75" width="15.13" height="7.60" fill="#ccf83e"/>
<rect x="4.30" y="189.65" width="15.83" height="7.60" fill="#74cc42"/>
<rect x="19.43" y="189.65" width="15.83" height="7.60" fill="#6cc046"/>
<rect x="34.56" y="189.65" width="15.83" height="7.60" fill="#74cc42"/>
<rect x="49.69" y="189.65" width="15.83" height="7.60" fill="#6cc046"/>
<rect x="64.82" y="189.65" width="15.83" height="7.60" fill="#5aa256"/>
<rect x="79.95" y="189.65" width="15.83" height="7.60" fill="#5aa256"/>
<rect x="95.08" y="189.65" width="15.83" height="7.60" fill="#74cc42"/>
<rect x="110.21" y="189.65" width="15.83" height="7.60" fill="#7ad640"/>
<rect x="125.34" y="189.65" width="15.83" height="7.60" fill="#74cc42"/>
<rect x="140.47" y="189.65" width="15.83" height="7.60" fill="#6cc046"/>
<rect x="155.60" y="189.65" width="15.83" height="7.60" fill="#82e23e"/>
<rect x="170.73" y="189.65" width="15.83" height="7.60" fill="#8aec3e"/>
<rect x="185.86" y="189.65" width="15.83" height="7.60" fill="#ccf83e"/>
<rect x="200.99" y="189.65" width="15.83" height="7.60" fill="#ccf83e"/>
<rect x="216.12" y="189.65" width="15.13" height="7.60" fill="#ccf83e"/>
<rect x="4.30" y="196.55" width="15.83" height="7.60" fill="#82e23e"/>
<rect x="19.43" y="196.55" width="15.83" height="7.60" fill="#60ac50"/>
<rect x="34.56" y="196.55" width="15.83" height="7.60" fill="#7ad640"/>
<rect x="49.69" y="196.55" width="15.83" height="7.60" fill="#6cc046"/>
<rect x="64.82" y="196.55" width="15.83" height="7.60" fill="#7ad640"/>
<rect x="79.95" y="196.55" width="15.83" height="7.60" fill="#7ad640"/>
<rect x="95.08" y="196.55" width="15.83" height="7.60" fill="#94f43e"/>
<rect x="110.21" y="196.55" width="15.83" height="7.60" fill="#60ac50"/>
<rect x="125.34" y="196.55" width="15.83" height="7.60" fill="#82e23e"/>
<rect x="140.47" y="196.55" width="15.83" height="7.60" fill="#7ad640"/>
<rect x="155.60" y="196.55" width="15.83" height="7.60" fill="#60ac50"/>
<rect x="170.73" y="196.55" width="15.83" height="7.60" fill="#60ac50"/>
<rect x="185.86" y="196.55" width="15.83" height="7.60" fill="#a8f83e"/>
<rect x="200.99" y="196.55" width="15.83" height="7.60" fill="#ccf83e"/>
<rect x="216.12" y="196.55" width="15.13" height="7.60" fill="#ecfc40"/>
<rect x="4.30" y="203.45" width="15.83" height="7.60" fill="#60ac50"/>
<rect x="19.43" y="203.45" width="15.83" height="7.60" fill="#a8f83e"/>
<rect x="34.56" y="203.45" width="15.83" height="7.60" fill="#7ad640"/>
<rect x="49.69" y="203.45" width="15.83" height="7.60" fill="#a8f83e"/>
<rect x="64.82" y="203.45" width="15.83" height="7.60" fill="#8aec3e"/>
<rect x="79.95" y="203.45" width="15.83" height="7.60" fill="#94f43e"/>
<rect x="95.08" y="203.45" width="15.83" height="7.60" fill="#94f43e"/>
<rect x="110.21" y="203.45" width="15.83" height="7.60" fill="#8aec3e"/>
<rect x="125.34" y="203.45" width="15.83" height="7.60" fill="#a8f83e"/>
<rect x="140.47" y="203.45" width="15.83" height="7.60" fill="#8aec3e"/>
<rect x="155.60" y="203.45" width="15.83" height="7.60" fill="#66b64a"/>
<rect x="170.73" y="203.45" width="15.83" height="7.60" fill="#82e23e"/>
<rect x="185.86" y="203.45" width="15.83" height="7.60" fill="#1e32d0"/>
<rect x="200.99" y="203.45" width="15.83" height="7.60" fill="#3868a4"/>
<rect x="216.12" y="203.45" width="15.13" height="7.60" fill="#66b64a"/>
<rect x="4.30" y="210.35" width="15.83" height="7.60" fill="#8aec3e"/>
<rect x="19.43" y="210.35" width="15.83" height="7.60" fill="#b6f83e"/>
<rect x="34.56" y="210.35" width="15.83" height="7.60" fill="#1e32d0"/>
<rect x="49.69" y="210.35" width="15.83" height="7.60" fill="#8aec3e"/>
<rect x="64.82" y="210.35" width="15.83" height="7.60" fill="#8aec3e"/>
<rect x="79.95" y="210.35" width="15.83" height="7.60" fill="#8aec3e"/>
<rect x="95.08" y="210.35" width="15.83" height="7.60" fill="#8aec3e"/>
<rect x="110.21" y="210.35" width="15.83" height="7.60" fill="#82e23e"/>
<rect x="125.34" y="210.35" width="15.83" height="7.60" fill="#7ad640"/>
<rect x="140.47" y="210.35" width="15.83" height="7.60" fill="#8aec3e"/>
<rect x="155.60" y="210.35" width="15.83" height="7.60" fill="#bef83e"/>
<rect x="170.73" y="210.35" width="15.83" height="7.60" fill="#8aec3e"/>
<rect x="185.86" y="210.35" width="15.83" height="7.60" fill="#1e32d0"/>
<rect x="200.99" y="210.35" width="15.83" height="7.60" fill="#8aec3e"/>
<rect x="216.12" y="210.35" width="15.13" height="7.60" fill="#7ad640"/>
<rect x="4.30" y="217.25" width="15.83" height="7.60" fill="#8aec3e"/>
<rect x="19.43" y="217.25" width="15.83" height="7.60" fill="#82e23e"/>
<rect x="34.56" y="217.25" width="15.83" height="7.60" fill="#8aec3e"/>
<rect x="49.69" y="217.25" width="15.83" height="7.60" fill="#6cc046"/>
<rect x="64.82" y="217.25" width="15.83" height="7.60" fill="#7ad640"/>
<rect x="79.95" y="217.25" width="15.83" height="7.60" fill="#74cc42"/>
<rect x="95.08" y="217.25" width="15.83" height="7.60" fill="#54965e"/>
<rect x="110.21" y="217.25" width="15.83" height="7.60" fill="#7ad640"/>
<rect x="125.34" y="217.25" width="15.83" height="7.60" fill="#6cc046"/>
<rect x="140.47" y="217.25" width="15.83" height="7.60" fill="#74cc42"/>
<rect x="155.60" y="217.25" width="15.83" height="7.60" fill="#74cc42"/>
<rect x="170.73" y="217.25" width="15.83" height="7.60" fill="#60ac50"/>
<rect x="185.86" y="217.25" width="15.83" height="7.60" fill="#bef83e"/>
<rect x="200.99" y="217.25" width="15.83" height="7.60" fill="#dcfa40"/>
<rect x="216.12" y="217.25" width="15.13" height="7.60" fill="#dcfa40"/>
<rect x="4.30" y="224.15" width="15.83" height="7.60" fill="#8aec3e"/>
<rect x="19.43" y="224.15" width="15.83" height="7.60" fill="#8aec3e"/>
<rect x="34.56" y="224.15" width="15.83" height="7.60" fill="#1e32d0"/>
<rect x="49.69" y="224.15" width="15.83" height="7.60" fill="#8aec3e"/>
<rect x="64.82" y="224.15" width="15.83" height="7.60" fill="#82e23e"/>
<rect x="79.95" y="224.15" width="15.83" height="7.60" fill="#94f43e"/>
<rect x="95.08" y="224.15" width="15.83" height="7.60" fill="#ccf83e"/>
<rect x="110.21" y="224.15" width="15.83" height="7.60" fill="#8aec3e"/>
<rect x="125.34" y="224.15" width="15.83" height="7.60" fill="#8aec3e"/>
<rect x="140.47" y="224.15" width="15.83" height="7.60" fill="#8aec3e"/>
<rect x="155.60" y="224.15" width="15.83" height="7.60" fill="#8aec3e"/>
<rect x="170.73" y="224.15" width="15.83" height="7.60" fill="#3868a4"/>
<rect x="185.86" y="224.15" width="15.83" height="7.60" fill="#66b64a"/>
<rect x="200.99" y="224.15" width="15.83" height="7.60" fill="#68ba48"/>
<rect x="216.12" y="224.15" width="15.13" height="7.60" fill="#5ea852"/>
<rect x="4.30" y="231.05" width="15.83" height="7.60" fill="#8aec3e"/>
<rect x="19.43" y="231.05" width="15.83" height="7.60" fill="#60ac50"/>
<rect x="34.56" y="231.05" width="15.83" height="7.60" fill="#94f43e"/>
<rect x="49.69" y="231.05" width="15.83" height="7.60" fill="#74cc42"/>
<rect x="64.82" y="231.05" width="15.83" height="7.60" fill="#74cc42"/>
<rect x="79.95" y="231.05" width="15.83" height="7.60" fill="#66b64a"/>
<rect x="95.08" y="231.05" width="15.83" height="7.60" fill="#74cc42"/>
<rect x="110.21" y="231.05" width="15.83" height="7.60" fill="#74cc42"/>
<rect x="125.34" y="231.05" width="15.83" height="7.60" fill="#74cc42"/>
<rect x="140.47" y="231.05" width="15.83" height="7.60" fill="#74cc42"/>
<rect x="155.60" y="231.05" width="15.83" height="7.60" fill="#60ac50"/>
<rect x="170.73" y="231.05" width="15.83" height="7.60" fill="#60ac50"/>
<rect x="185.86" y="231.05" width="15.83" height="7.60" fill="#ccf83e"/>
<rect x="200.99" y="231.05" width="15.83" height="7.60" fill="#ccf83e"/>
<rect x="216.12" y="231.05" width="15.13" height="7.60" fill="#ccf83e"/>
<rect x="4.30" y="237.95" width="15.83" height="7.60" fill="#74cc42"/>
<rect x="19.43" y="237.95" width="15.83" height="7.60" fill="#7ad640"/>
<rect x="34.56" y="237.95" width="15.83" height="7.60" fill="#7ad640"/>
<rect x="49.69" y="237.95" width="15.83" height="7.60" fill="#74cc42"/>
<rect x="64.82" y="237.95" width="15.83" height="7.60" fill="#74cc42"/>
<rect x="79.95" y="237.95" width="15.83" height="7.60" fill="#6cc046"/>
<rect x="95.08" y="237.95" width="15.83" height="7.60" fill="#5aa256"/>
<rect x="110.21" y="237.95" width="15.83" height="7.60" fill="#6cc046"/>
<rect x="125.34" y="237.95" width="15.83" height="7.60" fill="#6cc046"/>
<rect x="140.47" y="237.95" width="15.83" height="7.60" fill="#6cc046"/>
<rect x="155.60" y="237.95" width="15.83" height="7.60" fill="#7ad640"/>
<rect x="170.73" y="237.95" width="15.83" height="7.60" fill="#8aec3e"/>
<rect x="185.86" y="237.95" width="15.83" height="7.60" fill="#94f43e"/>
<rect x="200.99" y="237.95" width="15.83" height="7.60" fill="#bef83e"/>
<rect x="216.12" y="237.95" width="15.13" height="7.60" fill="#f8f430"/>
<rect x="4.30" y="244.85" width="15.83" height="7.60" fill="#74cc42"/>
<rect x="19.43" y="244.85" width="15.83" height="7.60" fill="#94f43e"/>
<rect x="34.56" y="244.85" width="15.83" height="7.60" fill="#5aa256"/>
<rect x="49.69" y="244.85" width="15.83" height="7.60" fill="#94f43e"/>
<rect x="64.82" y="244.85" width="15.83" height="7.60" fill="#94f43e"/>
<rect x="79.95" y="244.85" width="15.83" height="7.60" fill="#94f43e"/>
<rect x="95.08" y="244.85" width="15.83" height="7.60" fill="#94f43e"/>
<rect x="110.21" y="244.85" width="15.83" height="7.60" fill="#74cc42"/>
<rect x="125.34" y="244.85" width="15.83" height="7.60" fill="#94f43e"/>
<rect x="140.47" y="244.85" width="15.83" height="7.60" fill="#74cc42"/>
<rect x="155.60" y="244.85" width="15.83" height="7.60" fill="#8aec3e"/>
<rect x="170.73" y="244.85" width="15.83" height="7.60" fill="#82e23e"/>
<rect x="185.86" y="244.85" width="15.83" height="7.60" fill="#0814f4"/>
<rect x="200.99" y="244.85" width="15.83" height="7.60" fill="#66b64a"/>
<rect x="216.12" y="244.85" width="15.13" height="7.60" fill="#ccf83e"/>
<rect x="4.30" y="251.75" width="15.83" height="7.60" fill="#60ac50"/>
<rect x="19.43" y="251.75" width="15.83" height="7.60" fill="#7ad640"/>
<rect x="34.56" y="251.75" width="15.83" height="7.60" fill="#8aec3e"/>
<rect x="49.69" y="251.75" width="15.83" height="7.60" fill="#7ad640"/>
<rect x="64.82" y="251.75" width="15.83" height="7.60" fill="#8aec3e"/>
<rect x="79.95" y="251.75" width="15.83" height="7.60" fill="#66b64a"/>
<rect x="95.08" y="251.75" width="15.83" height="7.60" fill="#66b64a"/>
<rect x="110.21" y="251.75" width="15.83" height="7.60" fill="#66b64a"/>
<rect x="125.34" y="251.75" width="15.83" height="7.60" fill="#94f43e"/>
<rect x="140.47" y="251.75" width="15.83" height="7.60" fill="#60ac50"/>
<rect x="155.60" y="251.75" width="15.83" height="7.60" fill="#60ac50"/>
<rect x="170.73" y="251.75" width="15.83" height="7.60" fill="#6cc046"/>
<rect x="185.86" y="251.75" width="15.83" height="7.60" fill="#ccf83e"/>
<rect x="200.99" y="251.75" width="15.83" height="7.60" fill="#ccf83e"/>
<rect x="216.12" y="251.75" width="15.13" height="7.60" fill="#ccf83e"/>
<rect x="4.30" y="258.65" width="15.83" height="7.60" fill="#74cc42"/>
<rect x="19.43" y="258.65" width="15.83" height="7.60" fill="#74cc42"/>
<rect x="34.56" y="258.65" width="15.83" height="7.60" fill="#8aec3e"/>
<rect x="49.69" y="258.65" width="15.83" height="7.60" fill="#66b64a"/>
<rect x="64.82" y="258.65" width="15.83" height="7.60" fill="#6cc046"/>
<rect x="79.95" y="258.65" width="15.83" height="7.60" fill="#6cc046"/>
<rect x="95.08" y="258.65" width="15.83" height="7.60" fill="#6cc046"/>
<rect x="110.21" y="258.65" width="15.83" height="7.60" fill="#6cc046"/>
<rect x="125.34" y="258.65" width="15.83" height="7.60" fill="#6cc046"/>
<rect x="140.47" y="258.65" width="15.83" height="7.60" fill="#6cc046"/>
<rect x="155.60" y="258.65" width="15.83" height="7.60" fill="#66b64a"/>
<rect x="170.73" y="258.65" width="15.83" height="7.60" fill="#66b64a"/>
<rect x="185.86" y="258.65" width="15.83" height="7.60" fill="#ccf83e"/>
<rect x="200.99" y="258.65" width="15.83" height="7.60" fill="#ccf83e"/>
<rect x="216.12" y="258.65" width="15.13" height="7.60" fill="#ccf83e"/>
<rect x="4.30" y="265.55" width="15.83" height="7.60" fill="#74cc42"/>
<rect x="19.43" y="265.55" width="15.83" height="7.60" fill="#74cc42"/>
<rect x="34.56" y="265.55" width="15.83" height="7.60" fill="#8aec3e"/>
<rect x="49.69" y="265.55" width="15.83" height="7.60" fill="#66b64a"/>
<rect x="64.82" y="265.55" width="15.83" height="7.60" fill="#7ad640"/>
<rect x="79.95" y="265.55" width="15.83" height="7.60" fill="#6cc046"/>
<rect x="95.08" y="265.55" width="15.83" height="7.60" fill="#6cc046"/>
<rect x="110.21" y="265.55" width="15.83" height="7.60" fill="#6cc046"/>
<rect x="125.34" y="265.55" width="15.83" height="7.60" fill="#6cc046"/>
<rect x="140.47" y="265.55" width="15.83" height="7.60" fill="#6cc046"/>
<rect x="155.60" y="265.55" width="15.83" height="7.60" fill="#7ad640"/>
<rect x="170.73" y="265.55" width="15.83" height="7.60" fill="#60ac50"/>
<rect x="185.86" y="265.55" width="15.83" height="7.60" fill="#ccf83e"/>
<rect x="200.99" y="265.55" width="15.83" height="7.60" fill="#ccf83e"/>
<rect x="216.12" y="265.55" width="15.13" height="7.60" fill="#ccf83e"/>
<rect x="4.30" y="272.45" width="15.83" height="7.60" fill="#8aec3e"/>
<rect x="19.43" y="272.45" width="15.83" height="7.60" fill="#66b64a"/>
<rect x="34.56" y="272.45" width="15.83" height="7.60" fill="#66b64a"/>
<rect x="49.69" y="272.45" width="15.83" height="7.60" fill="#74cc42"/>
<rect x="64.82" y="272.45" width="15.83" height="7.60" fill="#4a8078"/>
<rect x="79.95" y="272.45" width="15.83" height="7.60" fill="#4e8c6c"/>
<rect x="95.08" y="272.45" width="15.83" height="7.60" fill="#66b64a"/>
<rect x="110.21" y="272.45" width="15.83" height="7.60" fill="#7ad640"/>
<rect x="125.34" y="272.45" width="15.83" height="7.60" fill="#74cc42"/>
<rect x="140.47" y="272.45" width="15.83" height="7.60" fill="#82e23e"/>
<rect x="155.60" y="272.45" width="15.83" height="7.60" fill="#8aec3e"/>
<rect x="170.73" y="272.45" width="15.83" height="7.60" fill="#8aec3e"/>
<rect x="185.86" y="272.45" width="15.83" height="7.60" fill="#dcfa40"/>
<rect x="200.99" y="272.45" width="15.83" height="7.60" fill="#a8f83e"/>
<rect x="216.12" y="272.45" width="15.13" height="7.60" fill="#a8f83e"/>
<rect x="4.30" y="279.35" width="15.83" height="7.60" fill="#6cc046"/>
<rect x="19.43" y="279.35" width="15.83" height="7.60" fill="#60ac50"/>
<rect x="34.56" y="279.35" width="15.83" height="7.60" fill="#8aec3e"/>
<rect x="49.69" y="279.35" width="15.83" height="7.60" fill="#82e23e"/>
<rect x="64.82" y="279.35" width="15.83" height="7.60" fill="#74cc42"/>
<rect x="79.95" y="279.35" width="15.83" height="7.60" fill="#66b64a"/>
<rect x="95.08" y="279.35" width="15.83" height="7.60" fill="#4e8c6c"/>
<rect x="110.21" y="279.35" width="15.83" height="7.60" fill="#8aec3e"/>
<rect x="125.34" y="279.35" width="15.83" height="7.60" fill="#4e8c6c"/>
<rect x="140.47" y="279.35" width="15.83" height="7.60" fill="#74cc42"/>
<rect x="155.60" y="279.35" width="15.83" height="7.60" fill="#8aec3e"/>
<rect x="170.73" y="279.35" width="15.83" height="7.60" fill="#8aec3e"/>
<rect x="185.86" y="279.35" width="15.83" height="7.60" fill="#a8f83e"/>
<rect x="200.99" y="279.35" width="15.83" height="7.60" fill="#a8f83e"/>
<rect x="216.12" y="279.35" width="15.13" height="7.60" fill="#ccf83e"/>
<rect x="4.30" y="286.25" width="15.83" height="7.60" fill="#6cc046"/>
<rect x="19.43" y="286.25" width="15.83" height="7.60" fill="#6cc046"/>
<rect x="34.56" y="286.25" width="15.83" height="7.60" fill="#94f43e"/>
<rect x="49.69" y="286.25" width="15.83" height="7.60" fill="#6cc046"/>
<rect x="64.82" y="286.25" width="15.83" height="7.60" fill="#6cc046"/>
<rect x="79.95" y="286.25" width="15.83" height="7.60" fill="#6cc046"/>
<rect x="95.08" y="286.25" width="15.83" height="7.60" fill="#6cc046"/>
<rect x="110.21" y="286.25" width="15.83" height="7.60" fill="#6cc046"/>
<rect x="125.34" y="286.25" width="15.83" height="7.60" fill="#6cc046"/>
<rect x="140.47" y="286.25" width="15.83" height="7.60" fill="#6cc046"/>
<rect x="155.60" y="286.25" width="15.83" height="7.60" fill="#6abc48"/>
<rect x="170.73" y="286.25" width="15.83" height="7.60" fill="#6abc48"/>
<rect x="185.86" y="286.25" width="15.83" height="7.60" fill="#ccf83e"/>
<rect x="200.99" y="286.25" width="15.83" height="7.60" fill="#ccf83e"/>
<rect x="216.12" y="286.25" width="15.13" height="7.60" fill="#ccf83e"/>
<rect x="4.30" y="293.15" width="15.83" height="7.60" fill="#74cc42"/>
<rect x="19.43" y="293.15" width="15.83" height="7.60" fill="#7ad640"/>
<rect x="34.56" y="293.15" width="15.83" height="7.60" fill="#94f43e"/>
<rect x="49.69" y="293.15" width="15.83" height="7.60" fill="#6cc046"/>
<rect x="64.82" y="293.15" width="15.83" height="7.60" fill="#6cc046"/>
<rect x="79.95" y="293.15" width="15.83" height="7.60" fill="#6cc046"/>
<rect x="95.08" y="293.15" width="15.83" height="7.60" fill="#6cc046"/>
<rect x="110.21" y="293.15" width="15.83" height="7.60" fill="#6cc046"/>
<rect x="125.34" y="293.15" width="15.83" height="7.60" fill="#7ad640"/>
<rect x="140.47" y="293.15" width="15.83" height="7.60" fill="#6cc046"/>
<rect x="155.60" y="293.15" width="15.83" height="7.60" fill="#6abc48"/>
<rect x="170.73" y="293.15" width="15.83" height="7.60" fill="#6abc48"/>
<rect x="185.86" y="293.15" width="15.83" height="7.60" fill="#ccf83e"/>
<rect x="200.99" y="293.15" width="15.83" height="7.60" fill="#dcfa40"/>
<rect x="216.12" y="293.15" width="15.13" height="7.60" fill="#dcfa40"/>
<rect x="4.30" y="300.05" width="15.83" height="7.60" fill="#74cc42"/>
<rect x="19.43" y="300.05" width="15.83" height="7.60" fill="#6cc046"/>
<rect x="34.56" y="300.05" width="15.83" height="7.60" fill="#94f43e"/>
<rect x="49.69" y="300.05" width="15.83" height="7.60" fill="#6cc046"/>
<rect x="64.82" y="300.05" width="15.83" height="7.60" fill="#6cc046"/>
<rect x="79.95" y="300.05" width="15.83" height="7.60" fill="#6cc046"/>
<rect x="95.08" y="300.05" width="15.83" height="7.60" fill="#6cc046"/>
<rect x="110.21" y="300.05" width="15.83" height="7.60" fill="#6cc046"/>
<rect x="125.34" y="300.05" width="15.83" height="7.60" fill="#6cc046"/>
<rect x="140.47" y="300.05" width="15.83" height="7.60" fill="#6cc046"/>
<rect x="155.60" y="300.05" width="15.83" height="7.60" fill="#6abc48"/>
<rect x="170.73" y="300.05" width="15.83" height="7.60" fill="#6abc48"/>
<rect x="185.86" y="300.05" width="15.83" height="7.60" fill="#ccf83e"/>
<rect x="200.99" y="300.05" width="15.83" height="7.60" fill="#dcfa40"/>
<rect x="216.12" y="300.05" width="15.13" height="7.60" fill="#ccf83e"/>
<rect x="4.30" y="306.95" width="15.83" height="7.60" fill="#54965e"/>
<rect x="19.43" y="306.95" width="15.83" height="7.60" fill="#94f43e"/>
<rect x="34.56" y="306.95" width="15.83" height="7.60" fill="#4a8078"/>
<rect x="49.69" y="306.95" width="15.83" height="7.60" fill="#7ad640"/>
<rect x="64.82" y="306.95" width="15.83" height="7.60" fill="#4e8c6c"/>
<rect x="79.95" y="306.95" width="15.83" height="7.60" fill="#8aec3e"/>
<rect x="95.08" y="306.95" width="15.83" height="7.60" fill="#60ac50"/>
<rect x="110.21" y="306.95" width="15.83" height="7.60" fill="#5aa256"/>
<rect x="125.34" y="306.95" width="15.83" height="7.60" fill="#7ad640"/>
<rect x="140.47" y="306.95" width="15.83" height="7.60" fill="#74cc42"/>
<rect x="155.60" y="306.95" width="15.83" height="7.60" fill="#bef83e"/>
<rect x="170.73" y="306.95" width="15.83" height="7.60" fill="#8aec3e"/>
<rect x="185.86" y="306.95" width="15.83" height="7.60" fill="#ccf83e"/>
<rect x="200.99" y="306.95" width="15.83" height="7.60" fill="#94f43e"/>
<rect x="216.12" y="306.95" width="15.13" height="7.60" fill="#94f43e"/>
<rect x="4.30" y="313.85" width="15.83" height="7.60" fill="#2c50b8"/>
<rect x="19.43" y="313.85" width="15.83" height="7.60" fill="#94f43e"/>
<rect x="34.56" y="313.85" width="15.83" height="7.60" fill="#2541c4"/>
<rect x="49.69" y="313.85" width="15.83" height="7.60" fill="#8aec3e"/>
<rect x="64.82" y="313.85" width="15.83" height="7.60" fill="#4e8c6c"/>
<rect x="79.95" y="313.85" width="15.83" height="7.60" fill="#a0f63e"/>
<rect x="95.08" y="313.85" width="15.83" height="7.60" fill="#94f43e"/>
<rect x="110.21" y="313.85" width="15.83" height="7.60" fill="#74cc42"/>
<rect x="125.34" y="313.85" width="15.83" height="7.60" fill="#8aec3e"/>
<rect x="140.47" y="313.85" width="15.83" height="7.60" fill="#7ad640"/>
<rect x="155.60" y="313.85" width="15.83" height="7.60" fill="#a8f83e"/>
<rect x="170.73" y="313.85" width="15.83" height="7.60" fill="#8aec3e"/>
<rect x="185.86" y="313.85" width="15.83" height="7.60" fill="#66b64a"/>
<rect x="200.99" y="313.85" width="15.83" height="7.60" fill="#94f43e"/>
<rect x="216.12" y="313.85" width="15.13" height="7.60" fill="#94f43e"/>
<rect x="4.30" y="320.75" width="15.83" height="7.60" fill="#8aec3e"/>
<rect x="19.43" y="320.75" width="15.83" height="7.60" fill="#8aec3e"/>
<rect x="34.56" y="320.75" width="15.83" height="7.60" fill="#a8f83e"/>
<rect x="49.69" y="320.75" width="15.83" height="7.60" fill="#4e8c6c"/>
<rect x="64.82" y="320.75" width="15.83" height="7.60" fill="#6cc046"/>
<rect x="79.95" y="320.75" width="15.83" height="7.60" fill="#66b64a"/>
<rect x="95.08" y="320.75" width="15.83" height="7.60" fill="#7ad640"/>
<rect x="110.21" y="320.75" width="15.83" height="7.60" fill="#4a8078"/>
<rect x="125.34" y="320.75" width="15.83" height="7.60" fill="#66b64a"/>
<rect x="140.47" y="320.75" width="15.83" height="7.60" fill="#74cc42"/>
<rect x="155.60" y="320.75" width="15.83" height="7.60" fill="#4a8078"/>
<rect x="170.73" y="320.75" width="15.83" height="7.60" fill="#82e23e"/>
<rect x="185.86" y="320.75" width="15.83" height="7.60" fill="#9cf63e"/>
<rect x="200.99" y="320.75" width="15.83" height="7.60" fill="#ccf83e"/>
<rect x="216.12" y="320.75" width="15.13" height="7.60" fill="#a8f83e"/>
<rect x="4.30" y="327.65" width="15.83" height="7.60" fill="#8aec3e"/>
<rect x="19.43" y="327.65" width="15.83" height="7.60" fill="#60ac50"/>
<rect x="34.56" y="327.65" width="15.83" height="7.60" fill="#427690"/>
<rect x="49.69" y="327.65" width="15.83" height="7.60" fill="#4e8c6c"/>
<rect x="64.82" y="327.65" width="15.83" height="7.60" fill="#7ad640"/>
<rect x="79.95" y="327.65" width="15.83" height="7.60" fill="#94f43e"/>
<rect x="95.08" y="327.65" width="15.83" height="7.60" fill="#94f43e"/>
<rect x="110.21" y="327.65" width="15.83" height="7.60" fill="#94f43e"/>
<rect x="125.34" y="327.65" width="15.83" height="7.60" fill="#6cc046"/>
<rect x="140.47" y="327.65" width="15.83" height="7.60" fill="#8aec3e"/>
<rect x="155.60" y="327.65" width="15.83" height="7.60" fill="#a8f83e"/>
<rect x="170.73" y="327.65" width="15.83" height="7.60" fill="#3868a4"/>
<rect x="185.86" y="327.65" width="15.83" height="7.60" fill="#8aec3e"/>
<rect x="200.99" y="327.65" width="15.83" height="7.60" fill="#a8f83e"/>
<rect x="216.12" y="327.65" width="15.13" height="7.60" fill="#a8f83e"/>
<rect x="4.30" y="334.55" width="15.83" height="7.60" fill="#82e23e"/>
<rect x="19.43" y="334.55" width="15.83" height="7.60" fill="#8aec3e"/>
<rect x="34.56" y="334.55" width="15.83" height="7.60" fill="#2c50b8"/>
<rect x="49.69" y="334.55" width="15.83" height="7.60" fill="#8aec3e"/>
<rect x="64.82" y="334.55" width="15.83" height="7.60" fill="#8aec3e"/>
<rect x="79.95" y="334.55" width="15.83" height="7.60" fill="#8aec3e"/>
<rect x="95.08" y="334.55" width="15.83" height="7.60" fill="#4e8c6c"/>
<rect x="110.21" y="334.55" width="15.83" height="7.60" fill="#7ad640"/>
<rect x="125.34" y="334.55" width="15.83" height="7.60" fill="#6cc046"/>
<rect x="140.47" y="334.55" width="15.83" height="7.60" fill="#82e23e"/>
<rect x="155.60" y="334.55" width="15.83" height="7.60" fill="#74cc42"/>
<rect x="170.73" y="334.55" width="15.83" height="7.60" fill="#60ac50"/>
<rect x="185.86" y="334.55" width="15.83" height="7.60" fill="#ecfc40"/>
<rect x="200.99" y="334.55" width="15.83" height="7.60" fill="#a8f83e"/>
<rect x="216.12" y="334.55" width="15.13" height="7.60" fill="#8aec3e"/>
<rect x="4.30" y="341.45" width="15.83" height="6.90" fill="#74cc42"/>
<rect x="19.43" y="341.45" width="15.83" height="6.90" fill="#60ac50"/>
<rect x="34.56" y="341.45" width="15.83" height="6.90" fill="#8aec3e"/>
<rect x="49.69" y="341.45" width="15.83" height="6.90" fill="#74cc42"/>
<rect x="64.82" y="341.45" width="15.83" height="6.90" fill="#74cc42"/>
<rect x="79.95" y="341.45" width="15.83" height="6.90" fill="#5aa256"/>
<rect x="95.08" y="341.45" width="15.83" height="6.90" fill="#74cc42"/>
<rect x="110.21" y="341.45" width="15.83" height="6.90" fill="#6cc046"/>
<rect x="125.34" y="341.45" width="15.83" height="6.90" fill="#74cc42"/>
<rect x="140.47" y="341.45" width="15.83" height="6.90" fill="#7ad640"/>
<rect x="155.60" y="341.45" width="15.83" height="6.90" fill="#60ac50"/>
<rect x="170.73" y="341.45" width="15.83" height="6.90" fill="#82e23e"/>
<rect x="185.86" y="341.45" width="15.83" height="6.90" fill="#b6f83e"/>
<rect x="200.99" y="341.45" width="15.83" height="6.90" fill="#b6f83e"/>
<rect x="216.12" y="341.45" width="15.13" height="6.90" fill="#b6f83e"/>
<rect x="4.30" y="285.85" width="226.95" height="0.65" fill="#fff"/>
<text x="236.3" y="126.00" font-size="4.25" font-weight="bold" fill="#111" class="k">IDH1</text>
<text x="236.3" y="132.90" font-size="4.25" font-weight="bold" fill="#111" class="k">SRSF2</text>
<text x="236.3" y="139.80" font-size="4.25" font-weight="bold" fill="#111" class="k">TP53</text>
<text x="236.3" y="146.70" font-size="4.25" font-weight="bold" fill="#111" class="k">CSF3R</text>
<text x="236.3" y="153.60" font-size="4.25" font-weight="bold" fill="#111" class="k">BCOR</text>
<text x="236.3" y="160.50" font-size="4.25" font-weight="bold" fill="#111" class="k">FLT3</text>
<text x="236.3" y="167.40" font-size="4.25" font-weight="bold" fill="#111" class="k">ASXL1</text>
<text x="236.3" y="174.30" font-size="4.25" font-weight="bold" fill="#111" class="k">NPM1</text>
<text x="236.3" y="181.20" font-size="4.25" font-weight="bold" fill="#111" class="k">ZRSR2</text>
<text x="236.3" y="188.10" font-size="4.25" font-weight="bold" fill="#111" class="k">DNMT3A</text>
<text x="236.3" y="195.00" font-size="4.25" font-weight="bold" fill="#111" class="k">CALR</text>
<text x="236.3" y="201.90" font-size="4.25" font-weight="bold" fill="#111" class="k">EZH2</text>
<text x="236.3" y="208.80" font-size="4.25" font-weight="bold" fill="#111" class="k">PTPN11</text>
<text x="236.3" y="215.70" font-size="4.25" font-weight="bold" fill="#111" class="k">MPL</text>
<text x="236.3" y="222.60" font-size="4.25" font-weight="bold" fill="#111" class="k">TET2</text>
<text x="236.3" y="229.50" font-size="4.25" font-weight="bold" fill="#111" class="k">SETBP1</text>
<text x="236.3" y="236.40" font-size="4.25" font-weight="bold" fill="#111" class="k">NRAS</text>
<text x="236.3" y="243.30" font-size="4.25" font-weight="bold" fill="#111" class="k">KRAS</text>
<text x="236.3" y="250.20" font-size="4.25" font-weight="bold" fill="#111" class="k">CBL</text>
<text x="236.3" y="257.10" font-size="4.25" font-weight="bold" fill="#111" class="k">IDH2</text>
<text x="236.3" y="264.00" font-size="4.25" font-weight="bold" fill="#111" class="k">JAK2</text>
<text x="236.3" y="270.90" font-size="4.25" font-weight="bold" fill="#111" class="k">RUNX1</text>
<text x="236.3" y="277.80" font-size="4.25" font-weight="bold" fill="#111" class="k">SF3B1</text>
<text x="236.3" y="284.70" font-size="4.25" font-weight="bold" fill="#111" class="k">U2AF1</text>
<text x="236.3" y="291.60" font-size="4.25" font-weight="bold" fill="#111" class="k">VCP</text>
<text x="236.3" y="298.50" font-size="4.25" font-weight="bold" fill="#111" class="k">SNRPD3</text>
<text x="236.3" y="305.40" font-size="4.25" font-weight="bold" fill="#111" class="k">GPI</text>
<text x="236.3" y="312.30" font-size="4.25" font-weight="bold" fill="#111" class="k">REEP5</text>
<text x="236.3" y="319.20" font-size="4.25" font-weight="bold" fill="#111" class="k">EMC7</text>
<text x="236.3" y="326.10" font-size="4.25" font-weight="bold" fill="#111" class="k">VPS29</text>
<text x="236.3" y="333.00" font-size="4.25" font-weight="bold" fill="#111" class="k">PSMB2</text>
<text x="236.3" y="339.90" font-size="4.25" font-weight="bold" fill="#111" class="k">C1orf43</text>
<text x="236.3" y="346.80" font-size="4.25" font-weight="bold" fill="#111" class="k">CHMP2A</text>
<rect x="258.7" y="121" width="7.5" height="163" fill="#d9d9d9"/>
<rect x="258.7" y="288.3" width="7.5" height="59.2" fill="#d9d9d9"/>
<text transform="translate(264.0,208.6) rotate(-90)" text-anchor="middle" font-size="4.1" font-weight="bold" fill="#111" class="k">SELECT MYELOID GENES</text>
<text transform="translate(264.2,317.8) rotate(-90)" text-anchor="middle" font-size="4.1" font-weight="bold" fill="#111" class="k">HOUSEKEEPING GENES</text>
<rect x="4.3" y="352.3" width="75.5" height="7.2" fill="#dcdcdc"/>
<rect x="79.8" y="352.3" width="75.4" height="7.2" fill="#a8a8a8"/>
<rect x="155.2" y="352.3" width="75.5" height="7.2" fill="#6a6a6a"/>
<text x="42" y="357.6" text-anchor="middle" font-size="4.3" font-weight="bold" fill="#111" class="k">UNSORTED</text>
<text x="119.0" y="357.6" text-anchor="middle" font-size="4.3" font-weight="bold" fill="#111" class="k">CD34+</text>
<text x="195.0" y="357.6" text-anchor="middle" font-size="4.3" font-weight="bold" fill="#111" class="k">CD14+</text>
<defs><linearGradient id="ck" x1="0" x2="1" y1="0" y2="0"><stop offset="0" stop-color="#3040f0"/><stop offset="0.1" stop-color="#3850d8"/><stop offset="0.19" stop-color="#4a6cb4"/><stop offset="0.25" stop-color="#50809c"/><stop offset="0.3" stop-color="#4e8a80"/><stop offset="0.38" stop-color="#5aa664"/><stop offset="0.45" stop-color="#6cc054"/><stop offset="0.51" stop-color="#80d648"/><stop offset="0.6" stop-color="#90e444"/><stop offset="0.71" stop-color="#a8f048"/><stop offset="0.85" stop-color="#c8f650"/><stop offset="1" stop-color="#eef860"/></linearGradient></defs>
<rect x="235.8" y="352.8" width="76.6" height="6.6" fill="url(#ck)" stroke="#222" stroke-width="0.9"/>
<text x="274.3" y="357.9" text-anchor="middle" font-size="5.7" fill="#111">Row Z-Score</text>
<line x1="244.50" y1="359.6" x2="244.50" y2="361.6" stroke="#444" stroke-width="0.6"/>
<text x="244.50" y="368.2" text-anchor="middle" font-size="4.4" fill="#333">-2</text>
<line x1="259.12" y1="359.6" x2="259.12" y2="361.6" stroke="#444" stroke-width="0.6"/>
<text x="259.12" y="368.2" text-anchor="middle" font-size="4.4" fill="#333">-1</text>
<line x1="273.74" y1="359.6" x2="273.74" y2="361.6" stroke="#444" stroke-width="0.6"/>
<text x="273.74" y="368.2" text-anchor="middle" font-size="4.4" fill="#333">0</text>
<line x1="288.36" y1="359.6" x2="288.36" y2="361.6" stroke="#444" stroke-width="0.6"/>
<text x="288.36" y="368.2" text-anchor="middle" font-size="4.4" fill="#333">1</text>
<line x1="302.98" y1="359.6" x2="302.98" y2="361.6" stroke="#444" stroke-width="0.6"/>
<text x="302.98" y="368.2" text-anchor="middle" font-size="4.4" fill="#333">2</text>
<path d="M305.90 1.50 L305.90 154.20 L514.50 154.20" fill="none" stroke="#b4b4b4" stroke-width="1.2"/>
<line x1="303.60" y1="151.20" x2="305.90" y2="151.20" stroke="#999" stroke-width="0.6"/>
<text x="302.30" y="152.90" text-anchor="end" font-size="4.95" fill="#333">0.00</text>
<line x1="303.60" y1="115.50" x2="305.90" y2="115.50" stroke="#999" stroke-width="0.6"/>
<text x="302.30" y="117.20" text-anchor="end" font-size="4.95" fill="#333">5.00</text>
<line x1="303.60" y1="79.80" x2="305.90" y2="79.80" stroke="#999" stroke-width="0.6"/>
<text x="302.30" y="81.50" text-anchor="end" font-size="4.95" fill="#333">10.00</text>
<line x1="303.60" y1="44.10" x2="305.90" y2="44.10" stroke="#999" stroke-width="0.6"/>
<text x="302.30" y="45.80" text-anchor="end" font-size="4.95" fill="#333">15.00</text>
<line x1="303.60" y1="8.40" x2="305.90" y2="8.40" stroke="#999" stroke-width="0.6"/>
<text x="302.30" y="10.10" text-anchor="end" font-size="4.95" fill="#333">20.00</text>
<line x1="309.40" y1="154.20" x2="309.40" y2="156.50" stroke="#999" stroke-width="0.6"/>
<text x="309.40" y="162.40" text-anchor="middle" font-size="4.95" fill="#333">0.00</text>
<line x1="358.00" y1="154.20" x2="358.00" y2="156.50" stroke="#999" stroke-width="0.6"/>
<text x="358.00" y="162.40" text-anchor="middle" font-size="4.95" fill="#333">5.00</text>
<line x1="406.60" y1="154.20" x2="406.60" y2="156.50" stroke="#999" stroke-width="0.6"/>
<text x="406.60" y="162.40" text-anchor="middle" font-size="4.95" fill="#333">10.00</text>
<line x1="455.20" y1="154.20" x2="455.20" y2="156.50" stroke="#999" stroke-width="0.6"/>
<text x="455.20" y="162.40" text-anchor="middle" font-size="4.95" fill="#333">15.00</text>
<line x1="503.80" y1="154.20" x2="503.80" y2="156.50" stroke="#999" stroke-width="0.6"/>
<text x="503.80" y="162.40" text-anchor="middle" font-size="4.95" fill="#333">20.00</text>
<polygon points="318.2,143.3 351.9,143.3 352.4,140.8 353.1,134.8 353.1,134.7 353.2,134.6 353.2,134.4 353.3,134.3 353.3,134.2 353.4,134.1 353.5,134.0 353.6,133.9 353.7,133.8 353.9,133.8 354.0,133.7 354.1,133.7 354.2,133.6 354.4,133.6 354.5,133.6 354.6,133.6 354.8,133.6 354.9,133.7 355.0,133.7 355.2,133.8 355.3,133.8 355.4,133.9 355.5,134.0 357.5,136.0 359.5,135.7 363.3,133.1 364.7,128.6 364.7,128.5 364.8,128.4 364.8,128.3 364.9,128.1 365.0,128.1 365.1,128.0 368.4,125.0 368.4,124.9 368.5,124.8 372.0,122.5 376.8,117.8 376.9,117.8 381.7,113.5 381.8,113.4 381.9,113.3 384.1,111.9 388.3,107.7 388.4,107.6 388.6,107.5 388.7,107.4 393.0,105.3 393.1,105.3 393.2,105.3 398.4,103.6 402.3,101.3 405.6,95.5 405.7,95.4 405.7,95.3 405.8,95.2 410.7,90.3 415.5,85.5 415.5,85.5 420.6,80.5 420.7,80.4 420.8,80.3 420.9,80.3 421.0,80.2 426.4,77.9 431.3,74.9 435.3,68.8 437.3,63.8 437.4,63.7 437.4,63.6 437.5,63.4 440.8,59.1 440.9,59.0 441.0,59.0 441.1,58.9 445.4,55.7 445.4,55.7 450.8,51.9 450.9,51.8 454.2,50.0 451.9,48.7 449.7,47.6 444.8,51.1 444.7,51.2 444.6,51.3 444.4,51.3 440.8,52.5 436.3,55.2 436.2,55.3 433.2,56.7 429.1,61.7 429.0,61.8 428.9,61.9 428.8,62.0 428.6,62.0 428.5,62.1 428.4,62.1 428.2,62.2 428.1,62.2 427.9,62.2 427.8,62.2 427.7,62.2 427.5,62.1 427.4,62.1 425.9,61.4 420.8,64.1 417.1,67.1 417.1,67.1 413.8,69.7 413.6,69.8 413.5,69.9 409.3,71.8 404.1,75.1 400.5,78.6 400.4,78.7 400.3,78.8 400.2,78.8 400.1,78.9 394.8,81.2 389.5,84.8 389.4,84.8 389.2,84.9 389.1,84.9 389.0,85.0 388.8,85.0 388.7,85.0 388.5,85.0 384.0,84.4 379.7,85.7 375.6,89.3 375.5,89.4 375.4,89.5 375.3,89.5 369.8,92.4 366.2,95.4 366.1,95.5 366.0,95.5 365.9,95.6 365.7,95.6 365.6,95.7 365.5,95.7 365.3,95.7 365.2,95.7 365.1,95.7 365.0,95.7 364.8,95.6 362.1,94.6 359.0,98.0 358.9,98.0 358.8,98.1 358.7,98.2 358.6,98.3 358.4,98.3 358.3,98.4 358.2,98.4 358.0,98.4 357.9,98.4 357.7,98.4 357.6,98.3 357.5,98.3 357.3,98.2 357.2,98.2 357.1,98.1 356.9,97.9 355.7,101.2 355.7,101.3 355.6,101.4 355.5,101.5 355.5,101.6 355.4,101.7 355.3,101.8 355.1,101.9 355.0,102.0 354.9,102.0 354.8,102.1 350.4,103.2 347.0,106.9 346.9,107.0 346.8,107.1 346.7,107.2 346.6,107.3 346.5,107.3 346.4,107.4 341.8,108.6 338.5,112.0 338.4,112.1 338.3,112.1 338.2,112.2 338.1,112.3 338.0,112.3 337.8,112.4 337.7,112.4 335.1,112.8 333.0,115.0 332.9,115.1 332.8,115.2 332.7,115.2 332.6,115.3 332.4,115.3 332.3,115.4 332.1,115.4 332.0,115.4 331.9,115.4 331.7,115.4 331.6,115.3 331.5,115.3 331.3,115.2 331.2,115.2 331.1,115.1 331.0,115.0 330.9,114.9 330.8,114.8 330.8,114.6 330.5,114.2 330.3,114.9 330.3,115.0 330.2,115.2 330.2,115.3 330.1,115.4 330.0,115.5 329.9,115.6 329.8,115.7 329.6,115.8 329.5,115.8 329.4,115.9 329.2,115.9 324.9,116.6 324.8,116.6 324.7,116.6 324.5,116.6 324.4,116.6 324.0,124.1 324.0,124.2 324.0,124.4 323.9,124.5 323.9,124.6 323.8,124.7 323.7,124.8 323.6,124.9 323.5,125.0 323.4,125.1 323.3,125.2 323.2,125.3 323.1,125.3 322.9,125.4 322.8,125.4 322.7,125.4 322.5,125.4 322.4,125.4 322.3,125.4 320.3,124.9 320.1,124.8 320.0,124.8 319.9,124.7 319.8,124.6 319.7,124.5 319.6,124.4 319.5,124.3 319.4,124.2 319.3,124.1 319.3,124.0 319.2,123.8 318.8,122.1 318.2,125.1 318.2,143.3" fill="#a1a1a1"/>
<g fill="#a1a1a1"><circle cx="317.5" cy="143.9" r="1.55"/><circle cx="319.3" cy="143.6" r="1.55"/><circle cx="321.3" cy="143.9" r="1.55"/><circle cx="322.2" cy="143.9" r="1.55"/><circle cx="324.6" cy="143.1" r="1.55"/><circle cx="326.1" cy="143.3" r="1.55"/><circle cx="327.9" cy="143.1" r="1.55"/><circle cx="329.2" cy="144.0" r="1.55"/><circle cx="330.4" cy="143.5" r="1.55"/><circle cx="332.1" cy="143.5" r="1.55"/><circle cx="333.7" cy="143.3" r="1.55"/><circle cx="335.5" cy="143.4" r="1.55"/><circle cx="337.5" cy="143.7" r="1.55"/><circle cx="338.4" cy="144.1" r="1.55"/><circle cx="340.0" cy="143.4" r="1.55"/><circle cx="342.2" cy="144.0" r="1.55"/><circle cx="343.9" cy="143.8" r="1.55"/><circle cx="345.2" cy="144.0" r="1.55"/><circle cx="346.8" cy="143.7" r="1.55"/><circle cx="348.1" cy="143.9" r="1.55"/><circle cx="349.6" cy="143.6" r="1.55"/><circle cx="351.7" cy="143.5" r="1.55"/><circle cx="352.3" cy="142.8" r="1.55"/><circle cx="352.6" cy="141.0" r="1.55"/><circle cx="354.2" cy="141.2" r="1.55"/><circle cx="353.1" cy="139.9" r="1.55"/><circle cx="353.0" cy="137.5" r="1.55"/><circle cx="353.7" cy="136.5" r="1.55"/><circle cx="353.8" cy="134.4" r="1.55"/><circle cx="355.2" cy="134.0" r="1.55"/><circle cx="355.7" cy="135.0" r="1.55"/><circle cx="356.6" cy="136.3" r="1.55"/><circle cx="359.0" cy="136.4" r="1.55"/><circle cx="360.1" cy="135.7" r="1.55"/><circle cx="361.0" cy="135.1" r="1.55"/><circle cx="362.4" cy="133.9" r="1.55"/><circle cx="363.6" cy="132.6" r="1.55"/><circle cx="364.3" cy="131.3" r="1.55"/><circle cx="364.2" cy="129.4" r="1.55"/><circle cx="365.4" cy="128.5" r="1.55"/><circle cx="366.8" cy="127.4" r="1.55"/><circle cx="368.0" cy="126.2" r="1.55"/><circle cx="368.7" cy="127.1" r="1.55"/><circle cx="368.4" cy="125.2" r="1.55"/><circle cx="369.8" cy="124.2" r="1.55"/><circle cx="371.1" cy="122.9" r="1.55"/><circle cx="372.4" cy="122.0" r="1.55"/><circle cx="373.9" cy="120.9" r="1.55"/><circle cx="374.6" cy="119.8" r="1.55"/><circle cx="375.9" cy="118.4" r="1.55"/><circle cx="377.4" cy="117.4" r="1.55"/><circle cx="378.9" cy="116.2" r="1.55"/><circle cx="379.7" cy="117.9" r="1.55"/><circle cx="380.0" cy="115.2" r="1.55"/><circle cx="381.1" cy="114.6" r="1.55"/><circle cx="382.6" cy="113.8" r="1.55"/><circle cx="383.3" cy="112.8" r="1.55"/><circle cx="384.9" cy="111.5" r="1.55"/><circle cx="385.5" cy="110.3" r="1.55"/><circle cx="387.4" cy="109.2" r="1.55"/><circle cx="388.0" cy="108.7" r="1.55"/><circle cx="389.4" cy="107.1" r="1.55"/><circle cx="390.7" cy="109.9" r="1.55"/><circle cx="390.5" cy="107.0" r="1.55"/><circle cx="392.5" cy="105.6" r="1.55"/><circle cx="394.3" cy="105.6" r="1.55"/><circle cx="395.3" cy="104.7" r="1.55"/><circle cx="397.1" cy="104.3" r="1.55"/><circle cx="398.1" cy="104.1" r="1.55"/><circle cx="399.8" cy="102.9" r="1.55"/><circle cx="401.6" cy="101.8" r="1.55"/><circle cx="402.4" cy="101.9" r="1.55"/><circle cx="403.2" cy="99.7" r="1.55"/><circle cx="404.5" cy="99.1" r="1.55"/><circle cx="405.3" cy="97.4" r="1.55"/><circle cx="406.2" cy="95.6" r="1.55"/><circle cx="406.4" cy="94.3" r="1.55"/><circle cx="407.6" cy="93.8" r="1.55"/><circle cx="409.4" cy="92.2" r="1.55"/><circle cx="410.0" cy="91.6" r="1.55"/><circle cx="411.8" cy="90.5" r="1.55"/><circle cx="413.0" cy="91.8" r="1.55"/><circle cx="412.1" cy="88.5" r="1.55"/><circle cx="414.4" cy="91.0" r="1.55"/><circle cx="413.9" cy="88.2" r="1.55"/><circle cx="414.8" cy="87.0" r="1.55"/><circle cx="415.9" cy="85.3" r="1.55"/><circle cx="417.2" cy="86.9" r="1.55"/><circle cx="417.4" cy="84.5" r="1.55"/><circle cx="418.1" cy="83.1" r="1.55"/><circle cx="419.6" cy="81.7" r="1.55"/><circle cx="420.0" cy="80.7" r="1.55"/><circle cx="421.3" cy="80.0" r="1.55"/><circle cx="423.2" cy="79.2" r="1.55"/><circle cx="424.4" cy="79.2" r="1.55"/><circle cx="425.9" cy="81.5" r="1.55"/><circle cx="426.0" cy="78.7" r="1.55"/><circle cx="427.4" cy="77.2" r="1.55"/><circle cx="428.5" cy="76.8" r="1.55"/><circle cx="429.7" cy="77.9" r="1.55"/><circle cx="430.8" cy="75.6" r="1.55"/><circle cx="431.6" cy="74.7" r="1.55"/><circle cx="434.0" cy="76.5" r="1.55"/><circle cx="433.0" cy="74.1" r="1.55"/><circle cx="434.0" cy="74.6" r="1.55"/><circle cx="433.5" cy="72.7" r="1.55"/><circle cx="434.4" cy="71.1" r="1.55"/><circle cx="435.2" cy="69.4" r="1.55"/><circle cx="435.4" cy="67.9" r="1.55"/><circle cx="436.4" cy="66.8" r="1.55"/><circle cx="437.5" cy="65.1" r="1.55"/><circle cx="437.5" cy="63.5" r="1.55"/><circle cx="439.0" cy="62.2" r="1.55"/><circle cx="439.7" cy="61.2" r="1.55"/><circle cx="440.4" cy="59.4" r="1.55"/><circle cx="441.3" cy="58.8" r="1.55"/><circle cx="442.7" cy="60.0" r="1.55"/><circle cx="443.2" cy="57.6" r="1.55"/><circle cx="444.3" cy="57.2" r="1.55"/><circle cx="445.6" cy="56.2" r="1.55"/><circle cx="447.3" cy="58.3" r="1.55"/><circle cx="446.6" cy="55.2" r="1.55"/><circle cx="448.5" cy="53.9" r="1.55"/><circle cx="449.5" cy="55.9" r="1.55"/><circle cx="449.9" cy="52.9" r="1.55"/><circle cx="450.5" cy="52.6" r="1.55"/><circle cx="451.9" cy="53.9" r="1.55"/><circle cx="452.6" cy="51.7" r="1.55"/><circle cx="454.0" cy="50.9" r="1.55"/><circle cx="454.3" cy="49.8" r="1.55"/><circle cx="453.4" cy="49.3" r="1.55"/><circle cx="451.4" cy="48.8" r="1.55"/><circle cx="450.4" cy="47.7" r="1.55"/><circle cx="449.0" cy="47.7" r="1.55"/><circle cx="447.5" cy="48.2" r="1.55"/><circle cx="446.3" cy="49.7" r="1.55"/><circle cx="445.2" cy="48.0" r="1.55"/><circle cx="444.7" cy="50.2" r="1.55"/><circle cx="444.0" cy="51.2" r="1.55"/><circle cx="442.3" cy="51.5" r="1.55"/><circle cx="441.5" cy="49.6" r="1.55"/><circle cx="440.6" cy="52.4" r="1.55"/><circle cx="439.4" cy="53.3" r="1.55"/><circle cx="437.9" cy="53.9" r="1.55"/><circle cx="436.4" cy="54.8" r="1.55"/><circle cx="435.5" cy="55.2" r="1.55"/><circle cx="433.2" cy="55.7" r="1.55"/><circle cx="432.8" cy="56.8" r="1.55"/><circle cx="431.8" cy="58.2" r="1.55"/><circle cx="430.7" cy="59.5" r="1.55"/><circle cx="429.6" cy="61.0" r="1.55"/><circle cx="428.6" cy="62.3" r="1.55"/><circle cx="426.4" cy="61.1" r="1.55"/><circle cx="425.3" cy="61.6" r="1.55"/><circle cx="424.1" cy="59.2" r="1.55"/><circle cx="424.0" cy="62.0" r="1.55"/><circle cx="422.1" cy="63.1" r="1.55"/><circle cx="421.0" cy="60.2" r="1.55"/><circle cx="421.3" cy="63.8" r="1.55"/><circle cx="420.1" cy="65.0" r="1.55"/><circle cx="418.0" cy="62.5" r="1.55"/><circle cx="418.8" cy="65.7" r="1.55"/><circle cx="417.2" cy="67.0" r="1.55"/><circle cx="415.8" cy="67.9" r="1.55"/><circle cx="414.4" cy="68.4" r="1.55"/><circle cx="412.9" cy="66.3" r="1.55"/><circle cx="413.9" cy="69.2" r="1.55"/><circle cx="411.9" cy="69.9" r="1.55"/><circle cx="410.3" cy="71.2" r="1.55"/><circle cx="409.8" cy="69.3" r="1.55"/><circle cx="409.0" cy="71.1" r="1.55"/><circle cx="407.8" cy="72.8" r="1.55"/><circle cx="406.1" cy="73.4" r="1.55"/><circle cx="405.1" cy="73.9" r="1.55"/><circle cx="404.0" cy="75.4" r="1.55"/><circle cx="402.6" cy="76.2" r="1.55"/><circle cx="401.7" cy="77.4" r="1.55"/><circle cx="400.0" cy="78.0" r="1.55"/><circle cx="398.4" cy="79.4" r="1.55"/><circle cx="397.8" cy="80.0" r="1.55"/><circle cx="395.5" cy="80.4" r="1.55"/><circle cx="394.2" cy="81.1" r="1.55"/><circle cx="393.1" cy="81.5" r="1.55"/><circle cx="391.7" cy="82.7" r="1.55"/><circle cx="390.7" cy="84.0" r="1.55"/><circle cx="389.2" cy="84.5" r="1.55"/><circle cx="387.0" cy="84.3" r="1.55"/><circle cx="386.3" cy="84.7" r="1.55"/><circle cx="384.8" cy="84.1" r="1.55"/><circle cx="382.7" cy="84.7" r="1.55"/><circle cx="381.0" cy="84.6" r="1.55"/><circle cx="379.7" cy="85.3" r="1.55"/><circle cx="378.5" cy="83.7" r="1.55"/><circle cx="378.4" cy="86.4" r="1.55"/><circle cx="377.3" cy="87.7" r="1.55"/><circle cx="376.3" cy="88.6" r="1.55"/><circle cx="374.9" cy="89.6" r="1.55"/><circle cx="373.2" cy="90.4" r="1.55"/><circle cx="372.3" cy="91.2" r="1.55"/><circle cx="370.7" cy="92.0" r="1.55"/><circle cx="369.0" cy="92.3" r="1.55"/><circle cx="368.3" cy="93.6" r="1.55"/><circle cx="367.0" cy="94.6" r="1.55"/><circle cx="364.9" cy="95.4" r="1.55"/><circle cx="363.7" cy="94.8" r="1.55"/><circle cx="361.8" cy="94.4" r="1.55"/><circle cx="361.3" cy="95.1" r="1.55"/><circle cx="360.1" cy="96.1" r="1.55"/><circle cx="359.3" cy="97.4" r="1.55"/><circle cx="357.1" cy="95.6" r="1.55"/><circle cx="357.6" cy="97.9" r="1.55"/><circle cx="356.8" cy="97.6" r="1.55"/><circle cx="356.2" cy="99.7" r="1.55"/><circle cx="355.6" cy="100.7" r="1.55"/><circle cx="354.0" cy="102.2" r="1.55"/><circle cx="352.6" cy="102.0" r="1.55"/><circle cx="351.4" cy="103.0" r="1.55"/><circle cx="350.5" cy="100.0" r="1.55"/><circle cx="349.9" cy="103.2" r="1.55"/><circle cx="349.0" cy="104.9" r="1.55"/><circle cx="347.8" cy="105.4" r="1.55"/><circle cx="346.5" cy="107.4" r="1.55"/><circle cx="345.1" cy="107.2" r="1.55"/><circle cx="343.1" cy="107.4" r="1.55"/><circle cx="341.8" cy="108.5" r="1.55"/><circle cx="341.0" cy="109.5" r="1.55"/><circle cx="339.2" cy="110.3" r="1.55"/><circle cx="338.1" cy="111.2" r="1.55"/><circle cx="336.8" cy="109.8" r="1.55"/><circle cx="337.5" cy="111.9" r="1.55"/><circle cx="336.7" cy="109.7" r="1.55"/><circle cx="335.8" cy="112.9" r="1.55"/><circle cx="334.1" cy="113.6" r="1.55"/><circle cx="332.4" cy="111.5" r="1.55"/><circle cx="332.7" cy="114.3" r="1.55"/><circle cx="331.6" cy="114.7" r="1.55"/><circle cx="331.1" cy="113.9" r="1.55"/><circle cx="329.9" cy="114.6" r="1.55"/><circle cx="329.3" cy="116.0" r="1.55"/><circle cx="327.2" cy="116.1" r="1.55"/><circle cx="325.9" cy="116.0" r="1.55"/><circle cx="324.9" cy="116.2" r="1.55"/><circle cx="324.4" cy="117.1" r="1.55"/><circle cx="323.5" cy="118.7" r="1.55"/><circle cx="323.5" cy="120.5" r="1.55"/><circle cx="321.7" cy="120.5" r="1.55"/><circle cx="324.1" cy="122.7" r="1.55"/><circle cx="322.2" cy="122.2" r="1.55"/><circle cx="324.1" cy="123.4" r="1.55"/><circle cx="322.5" cy="124.7" r="1.55"/><circle cx="322.8" cy="122.6" r="1.55"/><circle cx="321.5" cy="125.0" r="1.55"/><circle cx="320.0" cy="124.2" r="1.55"/><circle cx="319.7" cy="122.9" r="1.55"/><circle cx="318.4" cy="121.8" r="1.55"/><circle cx="318.2" cy="122.9" r="1.55"/><circle cx="318.1" cy="123.9" r="1.55"/><circle cx="317.8" cy="125.7" r="1.55"/><circle cx="317.8" cy="127.7" r="1.55"/><circle cx="318.1" cy="129.4" r="1.55"/><circle cx="317.7" cy="131.2" r="1.55"/><circle cx="318.3" cy="132.7" r="1.55"/><circle cx="317.5" cy="133.6" r="1.55"/><circle cx="317.9" cy="135.5" r="1.55"/><circle cx="317.4" cy="137.2" r="1.55"/><circle cx="317.5" cy="138.7" r="1.55"/><circle cx="318.3" cy="139.9" r="1.55"/><circle cx="317.5" cy="142.3" r="1.55"/><circle cx="443.9" cy="60.1" r="1.55"/><circle cx="380.5" cy="121.7" r="1.55"/><circle cx="393.1" cy="107.3" r="1.55"/><circle cx="366.2" cy="134.0" r="1.55"/><circle cx="357.4" cy="143.1" r="1.55"/><circle cx="372.7" cy="128.8" r="1.55"/><circle cx="369.1" cy="129.3" r="1.55"/><circle cx="356.7" cy="141.8" r="1.55"/><circle cx="363.5" cy="137.6" r="1.55"/><circle cx="454.3" cy="52.1" r="1.55"/><circle cx="381.0" cy="115.9" r="1.55"/><circle cx="424.0" cy="80.4" r="1.55"/><circle cx="391.7" cy="111.4" r="1.55"/><circle cx="379.1" cy="124.2" r="1.55"/><circle cx="382.4" cy="114.9" r="1.55"/><circle cx="368.1" cy="129.5" r="1.55"/><circle cx="390.0" cy="112.0" r="1.55"/><circle cx="381.2" cy="118.8" r="1.55"/><circle cx="356.7" cy="141.0" r="1.55"/><circle cx="356.6" cy="138.3" r="1.55"/><circle cx="378.0" cy="121.2" r="1.55"/><circle cx="363.6" cy="135.9" r="1.55"/><circle cx="321.9" cy="123.7" r="1.55"/><circle cx="367.6" cy="129.8" r="1.55"/><circle cx="440.0" cy="64.4" r="1.55"/><circle cx="389.1" cy="110.5" r="1.55"/><circle cx="438.5" cy="65.4" r="1.55"/><circle cx="367.8" cy="132.4" r="1.55"/><circle cx="376.4" cy="124.0" r="1.55"/><circle cx="362.8" cy="136.9" r="1.55"/><circle cx="379.7" cy="117.2" r="1.55"/><circle cx="389.1" cy="114.1" r="1.55"/><circle cx="389.2" cy="115.2" r="1.55"/><circle cx="369.0" cy="128.8" r="1.55"/><circle cx="392.3" cy="111.2" r="1.55"/><circle cx="372.2" cy="125.2" r="1.55"/><circle cx="446.6" cy="56.9" r="1.55"/><circle cx="413.4" cy="90.7" r="1.55"/><circle cx="371.8" cy="126.2" r="1.55"/><circle cx="379.4" cy="119.5" r="1.55"/><circle cx="451.0" cy="54.6" r="1.55"/><circle cx="364.9" cy="133.7" r="1.55"/><circle cx="408.9" cy="94.4" r="1.55"/><circle cx="371.2" cy="127.6" r="1.55"/><circle cx="365.6" cy="135.7" r="1.55"/><circle cx="382.0" cy="120.2" r="1.55"/><circle cx="412.7" cy="91.0" r="1.55"/><circle cx="445.1" cy="59.5" r="1.55"/><circle cx="416.8" cy="87.7" r="1.55"/><circle cx="448.5" cy="56.6" r="1.55"/><circle cx="376.4" cy="121.0" r="1.55"/><circle cx="356.4" cy="139.3" r="1.55"/><circle cx="369.3" cy="128.9" r="1.55"/><circle cx="450.2" cy="55.1" r="1.55"/><circle cx="366.0" cy="134.0" r="1.55"/><circle cx="378.2" cy="122.6" r="1.55"/><circle cx="370.4" cy="127.8" r="1.55"/><circle cx="388.6" cy="110.7" r="1.55"/><circle cx="378.0" cy="125.1" r="1.55"/><circle cx="366.4" cy="132.7" r="1.55"/><circle cx="383.8" cy="118.2" r="1.55"/><circle cx="355.0" cy="141.1" r="1.55"/><circle cx="387.0" cy="115.0" r="1.55"/><circle cx="367.9" cy="131.1" r="1.55"/><circle cx="445.1" cy="58.3" r="1.55"/><circle cx="373.5" cy="123.0" r="1.55"/><circle cx="377.5" cy="123.3" r="1.55"/><circle cx="369.1" cy="131.9" r="1.55"/><circle cx="353.5" cy="142.6" r="1.55"/><circle cx="364.3" cy="136.4" r="1.55"/><circle cx="361.3" cy="138.7" r="1.55"/><circle cx="414.5" cy="89.7" r="1.55"/></g>
<circle cx="323.5" cy="79.3" r="1.6" fill="#8e8e8e"/>
<circle cx="330.5" cy="80.2" r="1.6" fill="#8e8e8e"/>
<circle cx="323.5" cy="93.3" r="1.6" fill="#8e8e8e"/>
<circle cx="323.5" cy="102.0" r="1.6" fill="#8e8e8e"/>
<circle cx="318.4" cy="104.7" r="1.6" fill="#8e8e8e"/>
<circle cx="330.0" cy="108.8" r="1.6" fill="#8e8e8e"/>
<circle cx="355.8" cy="94.4" r="1.6" fill="#8e8e8e"/>
<circle cx="361.9" cy="92.1" r="1.6" fill="#8e8e8e"/>
<circle cx="413.2" cy="60.5" r="1.6" fill="#8e8e8e"/>
<circle cx="453.7" cy="39.4" r="1.6" fill="#8e8e8e"/>
<circle cx="457.7" cy="41.8" r="1.6" fill="#8e8e8e"/>
<circle cx="457.0" cy="45.9" r="1.6" fill="#8e8e8e"/>
<circle cx="465.8" cy="34.2" r="1.6" fill="#8e8e8e"/>
<circle cx="467.4" cy="40.2" r="1.6" fill="#8e8e8e"/>
<circle cx="466.1" cy="34.3" r="1.6" fill="#8e8e8e"/>
<circle cx="475.4" cy="29.1" r="1.6" fill="#8e8e8e"/>
<circle cx="483.5" cy="21.4" r="1.6" fill="#8e8e8e"/>
<circle cx="487.5" cy="20.4" r="1.6" fill="#8e8e8e"/>
<circle cx="502.1" cy="13.3" r="1.6" fill="#8e8e8e"/>
<circle cx="511.0" cy="5.7" r="1.6" fill="#8e8e8e"/>
<circle cx="355.4" cy="143.2" r="1.6" fill="#8e8e8e"/>
<circle cx="359.4" cy="143.2" r="1.6" fill="#8e8e8e"/>
<circle cx="366.9" cy="139.4" r="1.6" fill="#8e8e8e"/>
<circle cx="373.6" cy="136.2" r="1.6" fill="#8e8e8e"/>
<circle cx="380.0" cy="136.7" r="1.6" fill="#8e8e8e"/>
<circle cx="380.0" cy="130.4" r="1.6" fill="#8e8e8e"/>
<circle cx="379.7" cy="125.0" r="1.6" fill="#8e8e8e"/>
<circle cx="385.1" cy="125.6" r="1.6" fill="#8e8e8e"/>
<circle cx="387.8" cy="126.3" r="1.6" fill="#8e8e8e"/>
<circle cx="389.8" cy="124.0" r="1.6" fill="#8e8e8e"/>
<circle cx="389.1" cy="120.2" r="1.6" fill="#8e8e8e"/>
<circle cx="391.8" cy="116.2" r="1.6" fill="#8e8e8e"/>
<circle cx="391.8" cy="113.5" r="1.6" fill="#8e8e8e"/>
<circle cx="386.4" cy="114.2" r="1.6" fill="#8e8e8e"/>
<circle cx="412.0" cy="110.8" r="1.6" fill="#8e8e8e"/>
<circle cx="414.0" cy="110.8" r="1.6" fill="#8e8e8e"/>
<circle cx="418.8" cy="106.7" r="1.6" fill="#8e8e8e"/>
<circle cx="408.0" cy="104.0" r="1.6" fill="#8e8e8e"/>
<circle cx="400.6" cy="105.4" r="1.6" fill="#8e8e8e"/>
<circle cx="408.5" cy="98.8" r="1.6" fill="#8e8e8e"/>
<circle cx="408.5" cy="103.7" r="1.6" fill="#8e8e8e"/>
<circle cx="413.4" cy="111.0" r="1.6" fill="#8e8e8e"/>
<circle cx="418.3" cy="107.0" r="1.6" fill="#8e8e8e"/>
<circle cx="415.0" cy="98.8" r="1.6" fill="#8e8e8e"/>
<circle cx="361.2" cy="142.0" r="1.6" fill="#8e8e8e"/>
<circle cx="366.8" cy="134.6" r="1.6" fill="#8e8e8e"/>
<circle cx="369.3" cy="136.0" r="1.6" fill="#8e8e8e"/>
<circle cx="453.3" cy="81.3" r="1.6" fill="#8e8e8e"/>
<circle cx="431.7" cy="87.7" r="1.6" fill="#8e8e8e"/>
<circle cx="407.8" cy="100.5" r="1.6" fill="#8e8e8e"/>
<circle cx="408.2" cy="97.5" r="1.6" fill="#8e8e8e"/>
<circle cx="417.0" cy="95.5" r="1.6" fill="#8e8e8e"/>
<circle cx="421.0" cy="96.5" r="1.6" fill="#8e8e8e"/>
<circle cx="419.0" cy="99.5" r="1.6" fill="#8e8e8e"/>
<circle cx="416.5" cy="110.0" r="1.6" fill="#8e8e8e"/>
<circle cx="453.7" cy="39.3" r="1.6" fill="#8e8e8e"/>
<circle cx="457.5" cy="42.0" r="1.6" fill="#8e8e8e"/>
<circle cx="456.4" cy="45.8" r="1.6" fill="#8e8e8e"/>
<line x1="317.80" y1="141.50" x2="511.00" y2="13.30" stroke="#444" stroke-width="0.7"/>
<text transform="translate(284.60,78.20) rotate(-90)" text-anchor="middle" font-size="6.6" font-weight="bold" fill="#111">Median log2-normalized transcripts (unsorted)</text>
<text x="410.50" y="172.10" text-anchor="middle" font-size="6.6" font-weight="bold" fill="#111">Median log2-normalized transcripts (CD34-sorted)</text>
<text x="308.10" y="7.30" font-size="6.6" font-weight="bold" fill="#111" xml:space="preserve">ρ = 0.96   p &lt; 0.001</text>
<rect x="277.5" y="181.8" width="239.5" height="1" fill="#f5f5f5"/>
<path d="M305.90 184.80 L305.90 337.00 L514.50 337.00" fill="none" stroke="#b4b4b4" stroke-width="1.2"/>
<line x1="303.60" y1="334.30" x2="305.90" y2="334.30" stroke="#999" stroke-width="0.6"/>
<text x="302.30" y="336.00" text-anchor="end" font-size="4.95" fill="#333">0.00</text>
<line x1="303.60" y1="297.95" x2="305.90" y2="297.95" stroke="#999" stroke-width="0.6"/>
<text x="302.30" y="299.65" text-anchor="end" font-size="4.95" fill="#333">5.00</text>
<line x1="303.60" y1="261.60" x2="305.90" y2="261.60" stroke="#999" stroke-width="0.6"/>
<text x="302.30" y="263.30" text-anchor="end" font-size="4.95" fill="#333">10.00</text>
<line x1="303.60" y1="225.25" x2="305.90" y2="225.25" stroke="#999" stroke-width="0.6"/>
<text x="302.30" y="226.95" text-anchor="end" font-size="4.95" fill="#333">15.00</text>
<line x1="303.60" y1="188.90" x2="305.90" y2="188.90" stroke="#999" stroke-width="0.6"/>
<text x="302.30" y="190.60" text-anchor="end" font-size="4.95" fill="#333">20.00</text>
<line x1="309.30" y1="337.00" x2="309.30" y2="339.30" stroke="#999" stroke-width="0.6"/>
<text x="309.30" y="345.20" text-anchor="middle" font-size="4.95" fill="#333">0.00</text>
<line x1="359.50" y1="337.00" x2="359.50" y2="339.30" stroke="#999" stroke-width="0.6"/>
<text x="359.50" y="345.20" text-anchor="middle" font-size="4.95" fill="#333">5.00</text>
<line x1="409.70" y1="337.00" x2="409.70" y2="339.30" stroke="#999" stroke-width="0.6"/>
<text x="409.70" y="345.20" text-anchor="middle" font-size="4.95" fill="#333">10.00</text>
<line x1="459.90" y1="337.00" x2="459.90" y2="339.30" stroke="#999" stroke-width="0.6"/>
<text x="459.90" y="345.20" text-anchor="middle" font-size="4.95" fill="#333">15.00</text>
<line x1="510.10" y1="337.00" x2="510.10" y2="339.30" stroke="#999" stroke-width="0.6"/>
<text x="510.10" y="345.20" text-anchor="middle" font-size="4.95" fill="#333">20.00</text>
<polygon points="316.5,328.7 361.4,328.7 364.1,323.2 364.2,323.1 364.3,323.0 364.3,322.9 368.9,317.6 369.0,317.5 369.1,317.4 369.3,317.3 375.5,313.4 375.5,313.4 383.4,308.8 387.5,303.7 390.7,298.4 390.8,298.2 390.9,298.1 394.1,294.9 397.9,290.7 397.9,290.6 398.0,290.5 398.1,290.4 398.3,290.4 398.4,290.3 398.5,290.3 402.0,289.2 405.0,287.2 408.0,284.3 410.1,280.2 410.1,280.0 410.2,279.9 410.3,279.8 410.4,279.7 410.5,279.6 413.7,277.4 413.7,277.4 416.8,275.4 419.0,273.3 419.1,273.3 425.7,267.3 425.7,267.2 435.1,259.8 440.6,254.2 443.8,249.2 443.9,249.1 447.5,244.7 450.7,234.6 450.7,234.5 450.8,234.4 450.8,234.3 450.9,234.2 453.1,231.2 451.2,229.5 447.0,229.9 447.0,229.9 439.5,230.4 432.3,233.7 429.0,237.2 428.9,237.3 428.8,237.4 428.7,237.5 428.6,237.6 428.4,237.6 428.3,237.7 420.2,239.3 412.3,242.5 405.7,246.4 405.6,246.5 405.5,246.5 405.4,246.5 397.4,248.8 397.3,248.9 397.2,248.9 389.2,249.9 389.0,249.9 381.2,249.9 374.8,251.8 370.5,255.1 365.7,263.0 365.6,263.1 365.5,263.2 365.4,263.3 365.3,263.4 365.2,263.5 357.2,268.4 357.1,268.5 350.6,271.7 350.4,271.7 340.8,274.9 334.4,278.1 324.8,282.9 324.7,283.0 316.5,286.0 316.5,328.7" fill="#a1a1a1"/>
<g fill="#a1a1a1"><circle cx="315.8" cy="329.3" r="1.55"/><circle cx="317.6" cy="329.0" r="1.55"/><circle cx="319.6" cy="329.3" r="1.55"/><circle cx="320.5" cy="329.3" r="1.55"/><circle cx="322.9" cy="328.5" r="1.55"/><circle cx="324.4" cy="328.7" r="1.55"/><circle cx="326.2" cy="328.5" r="1.55"/><circle cx="327.5" cy="329.4" r="1.55"/><circle cx="328.8" cy="328.9" r="1.55"/><circle cx="330.4" cy="328.9" r="1.55"/><circle cx="332.0" cy="328.7" r="1.55"/><circle cx="333.8" cy="328.8" r="1.55"/><circle cx="335.8" cy="329.1" r="1.55"/><circle cx="336.8" cy="329.5" r="1.55"/><circle cx="338.3" cy="328.8" r="1.55"/><circle cx="340.5" cy="329.4" r="1.55"/><circle cx="342.2" cy="329.2" r="1.55"/><circle cx="343.6" cy="329.4" r="1.55"/><circle cx="345.1" cy="329.1" r="1.55"/><circle cx="346.4" cy="329.3" r="1.55"/><circle cx="348.0" cy="329.0" r="1.55"/><circle cx="350.1" cy="328.9" r="1.55"/><circle cx="351.5" cy="329.3" r="1.55"/><circle cx="353.0" cy="329.0" r="1.55"/><circle cx="354.3" cy="329.2" r="1.55"/><circle cx="356.4" cy="328.9" r="1.55"/><circle cx="357.9" cy="329.5" r="1.55"/><circle cx="359.6" cy="329.4" r="1.55"/><circle cx="361.2" cy="329.5" r="1.55"/><circle cx="362.1" cy="327.8" r="1.55"/><circle cx="363.3" cy="326.1" r="1.55"/><circle cx="363.9" cy="325.5" r="1.55"/><circle cx="364.5" cy="323.7" r="1.55"/><circle cx="365.1" cy="321.9" r="1.55"/><circle cx="366.3" cy="320.9" r="1.55"/><circle cx="367.3" cy="319.8" r="1.55"/><circle cx="368.4" cy="318.9" r="1.55"/><circle cx="369.4" cy="317.1" r="1.55"/><circle cx="370.5" cy="316.8" r="1.55"/><circle cx="372.4" cy="316.2" r="1.55"/><circle cx="373.3" cy="315.3" r="1.55"/><circle cx="374.4" cy="313.7" r="1.55"/><circle cx="376.3" cy="316.4" r="1.55"/><circle cx="376.0" cy="312.9" r="1.55"/><circle cx="377.5" cy="312.1" r="1.55"/><circle cx="379.0" cy="311.4" r="1.55"/><circle cx="380.6" cy="310.9" r="1.55"/><circle cx="381.8" cy="309.6" r="1.55"/><circle cx="383.1" cy="309.0" r="1.55"/><circle cx="384.7" cy="311.7" r="1.55"/><circle cx="384.3" cy="307.9" r="1.55"/><circle cx="385.6" cy="306.4" r="1.55"/><circle cx="386.6" cy="308.0" r="1.55"/><circle cx="386.5" cy="305.3" r="1.55"/><circle cx="387.5" cy="304.4" r="1.55"/><circle cx="388.7" cy="303.4" r="1.55"/><circle cx="388.7" cy="301.9" r="1.55"/><circle cx="389.9" cy="300.2" r="1.55"/><circle cx="390.3" cy="298.8" r="1.55"/><circle cx="392.1" cy="297.5" r="1.55"/><circle cx="392.7" cy="297.0" r="1.55"/><circle cx="393.9" cy="295.2" r="1.55"/><circle cx="396.0" cy="297.4" r="1.55"/><circle cx="394.6" cy="294.6" r="1.55"/><circle cx="396.2" cy="292.7" r="1.55"/><circle cx="397.7" cy="292.1" r="1.55"/><circle cx="398.2" cy="290.5" r="1.55"/><circle cx="400.0" cy="290.1" r="1.55"/><circle cx="400.9" cy="289.9" r="1.55"/><circle cx="402.8" cy="288.9" r="1.55"/><circle cx="404.5" cy="287.7" r="1.55"/><circle cx="405.2" cy="287.7" r="1.55"/><circle cx="406.4" cy="285.8" r="1.55"/><circle cx="408.0" cy="285.4" r="1.55"/><circle cx="409.0" cy="283.9" r="1.55"/><circle cx="409.8" cy="282.0" r="1.55"/><circle cx="409.6" cy="280.5" r="1.55"/><circle cx="410.8" cy="279.9" r="1.55"/><circle cx="412.7" cy="278.6" r="1.55"/><circle cx="413.5" cy="278.2" r="1.55"/><circle cx="415.5" cy="277.3" r="1.55"/><circle cx="416.3" cy="278.9" r="1.55"/><circle cx="416.0" cy="275.6" r="1.55"/><circle cx="417.9" cy="278.4" r="1.55"/><circle cx="417.9" cy="275.4" r="1.55"/><circle cx="418.9" cy="274.2" r="1.55"/><circle cx="420.0" cy="272.6" r="1.55"/><circle cx="421.3" cy="274.2" r="1.55"/><circle cx="421.6" cy="271.8" r="1.55"/><circle cx="422.3" cy="270.5" r="1.55"/><circle cx="423.9" cy="269.1" r="1.55"/><circle cx="424.3" cy="268.1" r="1.55"/><circle cx="425.5" cy="267.2" r="1.55"/><circle cx="427.1" cy="266.1" r="1.55"/><circle cx="428.2" cy="265.7" r="1.55"/><circle cx="430.2" cy="267.7" r="1.55"/><circle cx="429.6" cy="264.9" r="1.55"/><circle cx="430.7" cy="263.2" r="1.55"/><circle cx="431.8" cy="262.6" r="1.55"/><circle cx="433.1" cy="263.6" r="1.55"/><circle cx="433.9" cy="261.2" r="1.55"/><circle cx="434.6" cy="260.2" r="1.55"/><circle cx="436.5" cy="262.7" r="1.55"/><circle cx="436.4" cy="259.8" r="1.55"/><circle cx="437.2" cy="260.6" r="1.55"/><circle cx="437.1" cy="258.7" r="1.55"/><circle cx="438.3" cy="257.2" r="1.55"/><circle cx="439.3" cy="255.8" r="1.55"/><circle cx="440.0" cy="254.6" r="1.55"/><circle cx="441.3" cy="253.7" r="1.55"/><circle cx="442.7" cy="252.1" r="1.55"/><circle cx="443.0" cy="250.7" r="1.55"/><circle cx="444.4" cy="249.3" r="1.55"/><circle cx="445.1" cy="248.3" r="1.55"/><circle cx="445.8" cy="246.5" r="1.55"/><circle cx="446.6" cy="245.8" r="1.55"/><circle cx="448.3" cy="246.8" r="1.55"/><circle cx="448.1" cy="244.3" r="1.55"/><circle cx="448.4" cy="243.3" r="1.55"/><circle cx="448.9" cy="241.7" r="1.55"/><circle cx="451.7" cy="242.3" r="1.55"/><circle cx="449.0" cy="240.1" r="1.55"/><circle cx="450.1" cy="238.1" r="1.55"/><circle cx="452.0" cy="239.0" r="1.55"/><circle cx="450.7" cy="236.6" r="1.55"/><circle cx="450.4" cy="235.7" r="1.55"/><circle cx="452.7" cy="235.8" r="1.55"/><circle cx="451.9" cy="234.2" r="1.55"/><circle cx="452.8" cy="232.8" r="1.55"/><circle cx="453.1" cy="231.2" r="1.55"/><circle cx="452.7" cy="230.3" r="1.55"/><circle cx="450.8" cy="229.6" r="1.55"/><circle cx="449.7" cy="229.4" r="1.55"/><circle cx="448.0" cy="229.4" r="1.55"/><circle cx="446.2" cy="229.2" r="1.55"/><circle cx="444.8" cy="229.8" r="1.55"/><circle cx="444.7" cy="227.7" r="1.55"/><circle cx="442.9" cy="229.5" r="1.55"/><circle cx="442.0" cy="229.8" r="1.55"/><circle cx="440.2" cy="229.8" r="1.55"/><circle cx="439.9" cy="227.8" r="1.55"/><circle cx="438.5" cy="230.7" r="1.55"/><circle cx="437.3" cy="231.4" r="1.55"/><circle cx="435.6" cy="231.8" r="1.55"/><circle cx="434.1" cy="232.6" r="1.55"/><circle cx="433.1" cy="232.9" r="1.55"/><circle cx="431.0" cy="233.7" r="1.55"/><circle cx="430.8" cy="235.0" r="1.55"/><circle cx="429.7" cy="236.3" r="1.55"/><circle cx="428.4" cy="237.3" r="1.55"/><circle cx="426.7" cy="237.8" r="1.55"/><circle cx="425.3" cy="238.5" r="1.55"/><circle cx="423.0" cy="238.1" r="1.55"/><circle cx="421.8" cy="239.0" r="1.55"/><circle cx="421.2" cy="236.3" r="1.55"/><circle cx="420.4" cy="238.9" r="1.55"/><circle cx="418.3" cy="239.9" r="1.55"/><circle cx="417.6" cy="236.9" r="1.55"/><circle cx="417.5" cy="240.3" r="1.55"/><circle cx="416.1" cy="241.3" r="1.55"/><circle cx="414.7" cy="238.3" r="1.55"/><circle cx="414.5" cy="241.6" r="1.55"/><circle cx="412.7" cy="242.4" r="1.55"/><circle cx="411.2" cy="243.0" r="1.55"/><circle cx="409.6" cy="243.4" r="1.55"/><circle cx="408.4" cy="241.1" r="1.55"/><circle cx="409.0" cy="244.0" r="1.55"/><circle cx="407.1" cy="244.8" r="1.55"/><circle cx="405.5" cy="246.3" r="1.55"/><circle cx="405.0" cy="244.4" r="1.55"/><circle cx="404.2" cy="246.1" r="1.55"/><circle cx="402.8" cy="247.3" r="1.55"/><circle cx="401.0" cy="247.5" r="1.55"/><circle cx="399.7" cy="247.6" r="1.55"/><circle cx="398.4" cy="248.6" r="1.55"/><circle cx="396.6" cy="248.7" r="1.55"/><circle cx="395.2" cy="248.9" r="1.55"/><circle cx="393.1" cy="248.7" r="1.55"/><circle cx="391.4" cy="249.5" r="1.55"/><circle cx="390.6" cy="249.7" r="1.55"/><circle cx="388.2" cy="249.6" r="1.55"/><circle cx="386.8" cy="249.6" r="1.55"/><circle cx="385.4" cy="249.1" r="1.55"/><circle cx="383.7" cy="249.4" r="1.55"/><circle cx="382.4" cy="249.8" r="1.55"/><circle cx="380.7" cy="249.7" r="1.55"/><circle cx="378.5" cy="250.0" r="1.55"/><circle cx="377.9" cy="251.0" r="1.55"/><circle cx="376.4" cy="251.1" r="1.55"/><circle cx="374.4" cy="251.9" r="1.55"/><circle cx="373.0" cy="252.3" r="1.55"/><circle cx="372.0" cy="253.5" r="1.55"/><circle cx="370.6" cy="252.0" r="1.55"/><circle cx="370.6" cy="254.5" r="1.55"/><circle cx="369.8" cy="256.1" r="1.55"/><circle cx="369.1" cy="257.2" r="1.55"/><circle cx="368.2" cy="258.8" r="1.55"/><circle cx="367.1" cy="260.1" r="1.55"/><circle cx="366.8" cy="261.6" r="1.55"/><circle cx="365.8" cy="263.1" r="1.55"/><circle cx="364.1" cy="263.5" r="1.55"/><circle cx="363.3" cy="264.6" r="1.55"/><circle cx="361.9" cy="265.4" r="1.55"/><circle cx="359.7" cy="266.2" r="1.55"/><circle cx="358.7" cy="266.9" r="1.55"/><circle cx="357.0" cy="267.9" r="1.55"/><circle cx="356.2" cy="268.6" r="1.55"/><circle cx="354.7" cy="269.1" r="1.55"/><circle cx="353.5" cy="269.8" r="1.55"/><circle cx="351.9" cy="267.6" r="1.55"/><circle cx="351.7" cy="270.7" r="1.55"/><circle cx="350.5" cy="271.1" r="1.55"/><circle cx="348.9" cy="272.3" r="1.55"/><circle cx="347.3" cy="272.2" r="1.55"/><circle cx="345.4" cy="273.3" r="1.55"/><circle cx="344.0" cy="273.2" r="1.55"/><circle cx="342.8" cy="274.3" r="1.55"/><circle cx="341.7" cy="271.3" r="1.55"/><circle cx="341.2" cy="274.3" r="1.55"/><circle cx="339.9" cy="275.4" r="1.55"/><circle cx="338.3" cy="275.5" r="1.55"/><circle cx="336.7" cy="277.0" r="1.55"/><circle cx="335.4" cy="277.0" r="1.55"/><circle cx="333.5" cy="277.6" r="1.55"/><circle cx="332.3" cy="279.0" r="1.55"/><circle cx="331.3" cy="279.7" r="1.55"/><circle cx="329.2" cy="280.1" r="1.55"/><circle cx="327.8" cy="280.6" r="1.55"/><circle cx="327.1" cy="278.8" r="1.55"/><circle cx="327.1" cy="281.4" r="1.55"/><circle cx="325.6" cy="279.4" r="1.55"/><circle cx="325.6" cy="282.8" r="1.55"/><circle cx="323.7" cy="283.3" r="1.55"/><circle cx="323.0" cy="280.6" r="1.55"/><circle cx="321.9" cy="283.4" r="1.55"/><circle cx="320.7" cy="283.8" r="1.55"/><circle cx="319.6" cy="284.6" r="1.55"/><circle cx="317.5" cy="285.4" r="1.55"/><circle cx="316.4" cy="286.1" r="1.55"/><circle cx="315.7" cy="287.6" r="1.55"/><circle cx="316.0" cy="288.8" r="1.55"/><circle cx="316.6" cy="290.4" r="1.55"/><circle cx="316.5" cy="291.7" r="1.55"/><circle cx="315.7" cy="293.3" r="1.55"/><circle cx="315.8" cy="295.2" r="1.55"/><circle cx="316.2" cy="297.2" r="1.55"/><circle cx="315.7" cy="298.1" r="1.55"/><circle cx="315.7" cy="299.9" r="1.55"/><circle cx="315.8" cy="301.2" r="1.55"/><circle cx="316.4" cy="303.5" r="1.55"/><circle cx="316.4" cy="304.8" r="1.55"/><circle cx="316.7" cy="306.7" r="1.55"/><circle cx="315.8" cy="308.6" r="1.55"/><circle cx="316.0" cy="309.8" r="1.55"/><circle cx="316.2" cy="310.9" r="1.55"/><circle cx="316.1" cy="312.6" r="1.55"/><circle cx="316.1" cy="314.7" r="1.55"/><circle cx="316.4" cy="316.4" r="1.55"/><circle cx="316.0" cy="318.2" r="1.55"/><circle cx="316.6" cy="319.7" r="1.55"/><circle cx="315.8" cy="320.6" r="1.55"/><circle cx="316.2" cy="322.5" r="1.55"/><circle cx="315.7" cy="324.2" r="1.55"/><circle cx="315.8" cy="325.7" r="1.55"/><circle cx="316.6" cy="326.9" r="1.55"/><circle cx="362.6" cy="261.3" r="1.55"/><circle cx="415.4" cy="279.2" r="1.55"/><circle cx="340.2" cy="270.0" r="1.55"/><circle cx="401.4" cy="245.8" r="1.55"/><circle cx="344.2" cy="265.6" r="1.55"/><circle cx="396.4" cy="246.6" r="1.55"/><circle cx="334.2" cy="268.8" r="1.55"/><circle cx="322.8" cy="280.0" r="1.55"/><circle cx="428.8" cy="267.0" r="1.55"/><circle cx="432.9" cy="263.4" r="1.55"/><circle cx="338.0" cy="268.4" r="1.55"/><circle cx="349.6" cy="263.7" r="1.55"/><circle cx="342.1" cy="271.9" r="1.55"/><circle cx="347.8" cy="267.0" r="1.55"/><circle cx="395.0" cy="247.5" r="1.55"/><circle cx="341.9" cy="264.8" r="1.55"/><circle cx="427.0" cy="268.5" r="1.55"/><circle cx="333.4" cy="273.2" r="1.55"/><circle cx="364.4" cy="258.1" r="1.55"/><circle cx="377.1" cy="316.5" r="1.55"/><circle cx="348.1" cy="268.4" r="1.55"/><circle cx="350.9" cy="266.1" r="1.55"/><circle cx="376.2" cy="317.3" r="1.55"/><circle cx="403.5" cy="290.9" r="1.55"/><circle cx="401.6" cy="245.6" r="1.55"/><circle cx="359.3" cy="260.0" r="1.55"/><circle cx="344.6" cy="264.5" r="1.55"/><circle cx="426.9" cy="233.6" r="1.55"/><circle cx="374.5" cy="318.8" r="1.55"/><circle cx="372.6" cy="318.7" r="1.55"/><circle cx="345.6" cy="268.6" r="1.55"/><circle cx="339.0" cy="267.7" r="1.55"/><circle cx="334.9" cy="272.7" r="1.55"/><circle cx="321.9" cy="274.5" r="1.55"/><circle cx="370.3" cy="321.1" r="1.55"/><circle cx="431.0" cy="265.8" r="1.55"/><circle cx="324.3" cy="275.2" r="1.55"/><circle cx="394.1" cy="297.4" r="1.55"/><circle cx="376.5" cy="316.3" r="1.55"/><circle cx="397.8" cy="293.2" r="1.55"/><circle cx="421.5" cy="273.6" r="1.55"/><circle cx="362.2" cy="257.4" r="1.55"/><circle cx="379.0" cy="313.5" r="1.55"/><circle cx="333.1" cy="270.0" r="1.55"/><circle cx="367.6" cy="255.8" r="1.55"/><circle cx="391.5" cy="247.6" r="1.55"/><circle cx="363.1" cy="329.4" r="1.55"/><circle cx="422.9" cy="235.8" r="1.55"/><circle cx="366.8" cy="326.1" r="1.55"/><circle cx="338.3" cy="266.0" r="1.55"/><circle cx="318.7" cy="280.3" r="1.55"/><circle cx="346.5" cy="268.4" r="1.55"/><circle cx="351.9" cy="262.5" r="1.55"/><circle cx="337.2" cy="272.0" r="1.55"/><circle cx="353.8" cy="264.7" r="1.55"/><circle cx="334.1" cy="268.9" r="1.55"/><circle cx="391.6" cy="301.9" r="1.55"/><circle cx="352.3" cy="266.2" r="1.55"/><circle cx="347.9" cy="263.5" r="1.55"/><circle cx="417.5" cy="237.3" r="1.55"/><circle cx="344.8" cy="271.6" r="1.55"/><circle cx="360.1" cy="260.9" r="1.55"/><circle cx="317.0" cy="279.4" r="1.55"/><circle cx="427.4" cy="233.5" r="1.55"/><circle cx="327.8" cy="274.2" r="1.55"/><circle cx="341.4" cy="272.2" r="1.55"/><circle cx="391.4" cy="300.0" r="1.55"/><circle cx="383.0" cy="310.7" r="1.55"/><circle cx="344.5" cy="268.1" r="1.55"/><circle cx="324.2" cy="278.9" r="1.55"/><circle cx="345.9" cy="271.4" r="1.55"/><circle cx="317.9" cy="278.7" r="1.55"/><circle cx="363.4" cy="327.8" r="1.55"/><circle cx="341.0" cy="268.9" r="1.55"/><circle cx="343.8" cy="264.4" r="1.55"/><circle cx="359.6" cy="262.0" r="1.55"/><circle cx="433.9" cy="263.8" r="1.55"/><circle cx="426.9" cy="234.6" r="1.55"/><circle cx="333.4" cy="271.6" r="1.55"/><circle cx="359.7" cy="263.5" r="1.55"/><circle cx="346.2" cy="262.0" r="1.55"/><circle cx="366.0" cy="325.3" r="1.55"/><circle cx="394.6" cy="297.4" r="1.55"/><circle cx="404.9" cy="244.4" r="1.55"/><circle cx="420.8" cy="274.2" r="1.55"/><circle cx="355.7" cy="266.5" r="1.55"/><circle cx="367.2" cy="325.8" r="1.55"/><circle cx="381.2" cy="313.2" r="1.55"/><circle cx="337.9" cy="271.1" r="1.55"/><circle cx="334.1" cy="270.1" r="1.55"/><circle cx="378.8" cy="314.3" r="1.55"/><circle cx="338.3" cy="270.9" r="1.55"/><circle cx="347.4" cy="266.8" r="1.55"/><circle cx="336.5" cy="273.0" r="1.55"/><circle cx="357.2" cy="265.8" r="1.55"/><circle cx="358.0" cy="262.9" r="1.55"/><circle cx="347.8" cy="269.9" r="1.55"/><circle cx="389.8" cy="303.8" r="1.55"/><circle cx="363.5" cy="329.3" r="1.55"/><circle cx="327.0" cy="276.1" r="1.55"/><circle cx="335.3" cy="268.2" r="1.55"/><circle cx="354.0" cy="263.8" r="1.55"/><circle cx="388.1" cy="305.8" r="1.55"/><circle cx="342.6" cy="268.0" r="1.55"/><circle cx="365.5" cy="260.0" r="1.55"/><circle cx="345.9" cy="268.3" r="1.55"/><circle cx="343.2" cy="267.5" r="1.55"/><circle cx="333.3" cy="271.5" r="1.55"/><circle cx="322.7" cy="276.3" r="1.55"/><circle cx="329.7" cy="271.9" r="1.55"/><circle cx="349.9" cy="263.7" r="1.55"/><circle cx="361.5" cy="258.0" r="1.55"/><circle cx="437.4" cy="260.1" r="1.55"/><circle cx="342.2" cy="266.1" r="1.55"/><circle cx="392.5" cy="247.9" r="1.55"/><circle cx="342.3" cy="267.8" r="1.55"/><circle cx="340.8" cy="266.5" r="1.55"/><circle cx="319.8" cy="281.5" r="1.55"/><circle cx="361.9" cy="263.0" r="1.55"/><circle cx="391.3" cy="301.7" r="1.55"/><circle cx="403.0" cy="290.3" r="1.55"/><circle cx="328.8" cy="273.0" r="1.55"/><circle cx="394.1" cy="297.9" r="1.55"/><circle cx="343.9" cy="263.3" r="1.55"/><circle cx="328.1" cy="273.2" r="1.55"/><circle cx="355.4" cy="264.5" r="1.55"/><circle cx="337.5" cy="274.3" r="1.55"/><circle cx="328.4" cy="272.6" r="1.55"/><circle cx="391.9" cy="247.7" r="1.55"/><circle cx="403.5" cy="245.5" r="1.55"/><circle cx="425.9" cy="270.2" r="1.55"/><circle cx="346.4" cy="270.3" r="1.55"/><circle cx="399.4" cy="291.8" r="1.55"/><circle cx="346.3" cy="262.4" r="1.55"/><circle cx="388.5" cy="304.8" r="1.55"/><circle cx="429.4" cy="234.3" r="1.55"/><circle cx="352.8" cy="264.8" r="1.55"/><circle cx="414.7" cy="239.4" r="1.55"/><circle cx="366.1" cy="256.8" r="1.55"/><circle cx="328.3" cy="277.8" r="1.55"/><circle cx="341.4" cy="268.1" r="1.55"/><circle cx="338.8" cy="269.6" r="1.55"/><circle cx="424.7" cy="271.0" r="1.55"/><circle cx="317.2" cy="284.1" r="1.55"/><circle cx="392.4" cy="300.0" r="1.55"/><circle cx="414.9" cy="279.5" r="1.55"/><circle cx="349.4" cy="270.4" r="1.55"/></g>
<circle cx="316.0" cy="264.0" r="1.6" fill="#8e8e8e"/>
<circle cx="322.2" cy="269.4" r="1.6" fill="#8e8e8e"/>
<circle cx="330.0" cy="268.6" r="1.6" fill="#8e8e8e"/>
<circle cx="339.0" cy="261.0" r="1.6" fill="#8e8e8e"/>
<circle cx="340.0" cy="263.0" r="1.6" fill="#8e8e8e"/>
<circle cx="342.0" cy="265.0" r="1.6" fill="#8e8e8e"/>
<circle cx="351.0" cy="253.7" r="1.6" fill="#8e8e8e"/>
<circle cx="356.0" cy="255.5" r="1.6" fill="#8e8e8e"/>
<circle cx="361.0" cy="256.0" r="1.6" fill="#8e8e8e"/>
<circle cx="359.7" cy="240.0" r="1.6" fill="#8e8e8e"/>
<circle cx="362.0" cy="243.0" r="1.6" fill="#8e8e8e"/>
<circle cx="364.0" cy="245.7" r="1.6" fill="#8e8e8e"/>
<circle cx="350.7" cy="260.5" r="1.6" fill="#8e8e8e"/>
<circle cx="352.0" cy="261.0" r="1.6" fill="#8e8e8e"/>
<circle cx="357.0" cy="266.0" r="1.6" fill="#8e8e8e"/>
<circle cx="346.0" cy="268.0" r="1.6" fill="#8e8e8e"/>
<circle cx="348.0" cy="264.0" r="1.6" fill="#8e8e8e"/>
<circle cx="334.0" cy="276.0" r="1.6" fill="#8e8e8e"/>
<circle cx="327.0" cy="278.0" r="1.6" fill="#8e8e8e"/>
<circle cx="320.0" cy="279.0" r="1.6" fill="#8e8e8e"/>
<circle cx="316.0" cy="278.0" r="1.6" fill="#8e8e8e"/>
<circle cx="320.0" cy="283.0" r="1.6" fill="#8e8e8e"/>
<circle cx="316.0" cy="283.0" r="1.6" fill="#8e8e8e"/>
<circle cx="325.0" cy="276.0" r="1.6" fill="#8e8e8e"/>
<circle cx="333.0" cy="271.0" r="1.6" fill="#8e8e8e"/>
<circle cx="338.0" cy="268.0" r="1.6" fill="#8e8e8e"/>
<circle cx="377.0" cy="227.1" r="1.6" fill="#8e8e8e"/>
<circle cx="382.6" cy="246.0" r="1.6" fill="#8e8e8e"/>
<circle cx="388.3" cy="244.0" r="1.6" fill="#8e8e8e"/>
<circle cx="396.8" cy="241.7" r="1.6" fill="#8e8e8e"/>
<circle cx="404.4" cy="243.6" r="1.6" fill="#8e8e8e"/>
<circle cx="414.1" cy="237.2" r="1.6" fill="#8e8e8e"/>
<circle cx="423.8" cy="234.7" r="1.6" fill="#8e8e8e"/>
<circle cx="425.4" cy="231.0" r="1.6" fill="#8e8e8e"/>
<circle cx="374.9" cy="248.5" r="1.6" fill="#8e8e8e"/>
<circle cx="363.2" cy="245.2" r="1.6" fill="#8e8e8e"/>
<circle cx="361.6" cy="242.0" r="1.6" fill="#8e8e8e"/>
<circle cx="361.0" cy="255.0" r="1.6" fill="#8e8e8e"/>
<circle cx="505.6" cy="189.2" r="1.6" fill="#8e8e8e"/>
<circle cx="499.8" cy="193.1" r="1.6" fill="#8e8e8e"/>
<circle cx="498.5" cy="193.1" r="1.6" fill="#8e8e8e"/>
<circle cx="495.4" cy="194.4" r="1.6" fill="#8e8e8e"/>
<circle cx="487.3" cy="209.2" r="1.6" fill="#8e8e8e"/>
<circle cx="481.2" cy="207.9" r="1.6" fill="#8e8e8e"/>
<circle cx="479.2" cy="208.5" r="1.6" fill="#8e8e8e"/>
<circle cx="475.8" cy="211.2" r="1.6" fill="#8e8e8e"/>
<circle cx="472.9" cy="212.3" r="1.6" fill="#8e8e8e"/>
<circle cx="468.5" cy="212.7" r="1.6" fill="#8e8e8e"/>
<circle cx="462.3" cy="213.7" r="1.6" fill="#8e8e8e"/>
<circle cx="462.7" cy="220.8" r="1.6" fill="#8e8e8e"/>
<circle cx="459.4" cy="221.9" r="1.6" fill="#8e8e8e"/>
<circle cx="453.1" cy="221.3" r="1.6" fill="#8e8e8e"/>
<circle cx="470.4" cy="225.8" r="1.6" fill="#8e8e8e"/>
<circle cx="476.7" cy="227.7" r="1.6" fill="#8e8e8e"/>
<circle cx="482.5" cy="228.1" r="1.6" fill="#8e8e8e"/>
<circle cx="478.7" cy="232.9" r="1.6" fill="#8e8e8e"/>
<circle cx="466.2" cy="224.6" r="1.6" fill="#8e8e8e"/>
<circle cx="460.8" cy="227.7" r="1.6" fill="#8e8e8e"/>
<circle cx="461.3" cy="235.4" r="1.6" fill="#8e8e8e"/>
<circle cx="454.6" cy="236.7" r="1.6" fill="#8e8e8e"/>
<circle cx="452.7" cy="226.2" r="1.6" fill="#8e8e8e"/>
<circle cx="425.4" cy="231.5" r="1.6" fill="#8e8e8e"/>
<circle cx="417.2" cy="282.5" r="1.6" fill="#8e8e8e"/>
<circle cx="420.0" cy="277.7" r="1.6" fill="#8e8e8e"/>
<circle cx="422.8" cy="298.9" r="1.6" fill="#8e8e8e"/>
<circle cx="409.6" cy="297.5" r="1.6" fill="#8e8e8e"/>
<circle cx="409.6" cy="301.3" r="1.6" fill="#8e8e8e"/>
<circle cx="405.8" cy="305.7" r="1.6" fill="#8e8e8e"/>
<circle cx="412.5" cy="307.5" r="1.6" fill="#8e8e8e"/>
<circle cx="399.2" cy="307.5" r="1.6" fill="#8e8e8e"/>
<circle cx="445.5" cy="262.6" r="1.6" fill="#8e8e8e"/>
<circle cx="432.3" cy="267.9" r="1.6" fill="#8e8e8e"/>
<circle cx="374.6" cy="327.7" r="1.6" fill="#8e8e8e"/>
<circle cx="373.8" cy="326.2" r="1.6" fill="#8e8e8e"/>
<circle cx="367.7" cy="325.0" r="1.6" fill="#8e8e8e"/>
<circle cx="389.2" cy="313.8" r="1.6" fill="#8e8e8e"/>
<circle cx="392.3" cy="311.5" r="1.6" fill="#8e8e8e"/>
<circle cx="399.2" cy="307.7" r="1.6" fill="#8e8e8e"/>
<circle cx="405.7" cy="305.4" r="1.6" fill="#8e8e8e"/>
<circle cx="405.4" cy="293.0" r="1.6" fill="#8e8e8e"/>
<circle cx="409.2" cy="301.5" r="1.6" fill="#8e8e8e"/>
<line x1="315.90" y1="326.10" x2="505.60" y2="199.80" stroke="#444" stroke-width="0.7"/>
<text transform="translate(284.60,261.30) rotate(-90)" text-anchor="middle" font-size="6.6" font-weight="bold" fill="#111">Median log2-normalized transcripts (unsorted)</text>
<text x="410.00" y="355.60" text-anchor="middle" font-size="6.6" font-weight="bold" fill="#111">Median log2-normalized transcripts (CD14-sorted)</text>
<text x="307.80" y="190.40" font-size="6.6" font-weight="bold" fill="#111" xml:space="preserve">ρ = 0.91   p &lt; 0.001</text>
</svg></body></html>
